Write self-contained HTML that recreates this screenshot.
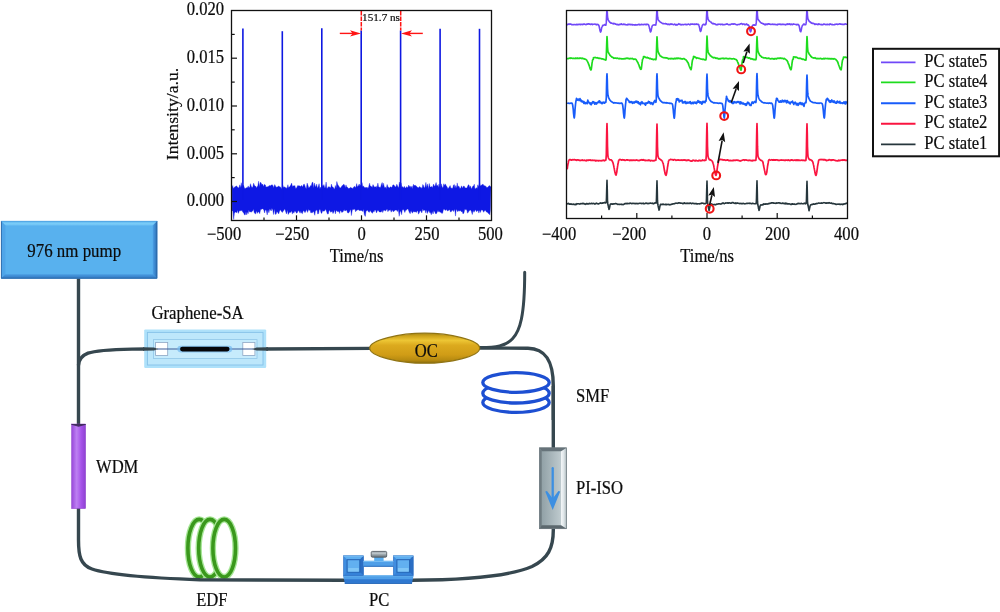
<!DOCTYPE html>
<html lang="en"><head><meta charset="utf-8"><title>Fiber laser figure</title>
<style>html,body{margin:0;padding:0;background:#fff}svg{display:block;will-change:transform}text{stroke:#0c0c0c;stroke-width:0.2px}</style></head>
<body>
<svg width="1000" height="612" viewBox="0 0 1000 612" font-family='"Liberation Serif", "Times New Roman", serif' fill="#0c0c0c">
<rect width="1000" height="612" fill="#fff"/>
<ellipse cx="199.2" cy="548.2" rx="11.3" ry="28.8" fill="#fff" stroke="#a6e696" stroke-width="6.3"/>
<ellipse cx="199.2" cy="548.2" rx="11.3" ry="28.8" fill="none" stroke="#3a981c" stroke-width="3.6"/>
<ellipse cx="210.0" cy="548.2" rx="11.3" ry="28.8" fill="#fff" stroke="#a6e696" stroke-width="6.3"/>
<ellipse cx="210.0" cy="548.2" rx="11.3" ry="28.8" fill="none" stroke="#3a981c" stroke-width="3.6"/>
<ellipse cx="224.2" cy="548.2" rx="11.3" ry="28.8" fill="#fff" stroke="#a6e696" stroke-width="6.3"/>
<ellipse cx="224.2" cy="548.2" rx="11.3" ry="28.8" fill="none" stroke="#3a981c" stroke-width="3.6"/>
<path d="M78.5,278 L78.5,540 C78.5,556 80.5,565 92,569 C108,574.5 150,578 200,579.8 L345,580.2" fill="none" stroke="#36474f" stroke-width="3.4" stroke-linecap="round"/>
<path d="M146,349 L132,349.1 C108,349.6 95,350.6 88,353.2 C81.5,355.8 79,359.5 78.5,365" fill="none" stroke="#36474f" stroke-width="3.4" stroke-linecap="round"/>
<path d="M265,349 L372,348.4" fill="none" stroke="#36474f" stroke-width="3.4" stroke-linecap="round"/>
<path d="M478,348 L528,348.2 C545,348.6 553.3,360 553.3,386 L553.3,530 C553.3,548 548,559 532,566.5 C512,575 470,580 412,580.2" fill="none" stroke="#36474f" stroke-width="3.4" stroke-linecap="round"/>
<path d="M479,347.6 C496,347.8 506,345.7 512.5,338.8 C520,331 524.7,316 524.7,272.3" fill="none" stroke="#36474f" stroke-width="3" stroke-linecap="round"/>
<defs>
<linearGradient id="gOC" x1="0" y1="0" x2="0" y2="1"><stop offset="0" stop-color="#a88812"/><stop offset="0.1" stop-color="#cfa51c"/><stop offset="0.24" stop-color="#edc634"/><stop offset="0.4" stop-color="#dcaa1e"/><stop offset="0.72" stop-color="#d09c16"/><stop offset="0.9" stop-color="#b68a10"/><stop offset="1" stop-color="#8a6c0a"/></linearGradient>
<linearGradient id="gWDM" x1="0" y1="0" x2="1" y2="0"><stop offset="0" stop-color="#9848da"/><stop offset="0.36" stop-color="#bd80f2"/><stop offset="0.7" stop-color="#a552e8"/><stop offset="1" stop-color="#8e42d2"/></linearGradient>
<linearGradient id="gISO" x1="0" y1="0" x2="1" y2="0"><stop offset="0" stop-color="#8c9ca2"/><stop offset="0.75" stop-color="#bcc8cc"/><stop offset="1" stop-color="#c8d3d7"/></linearGradient>
<linearGradient id="gPCb" x1="0" y1="0" x2="0" y2="1"><stop offset="0" stop-color="#6ab4ee"/><stop offset="1" stop-color="#2a78cc"/></linearGradient>
<linearGradient id="gKnob" x1="0" y1="0" x2="0" y2="1"><stop offset="0" stop-color="#8a9298"/><stop offset="0.3" stop-color="#c4ccd0"/><stop offset="0.65" stop-color="#8e989e"/><stop offset="1" stop-color="#6a747a"/></linearGradient>
<filter id="glow" x="-30%" y="-30%" width="160%" height="160%"><feGaussianBlur stdDeviation="1.1"/></filter>
</defs>
<linearGradient id="gPR" x1="0" y1="0" x2="1" y2="0"><stop offset="0" stop-color="#4c9fe6"/><stop offset="1" stop-color="#2b6db2"/></linearGradient>
<linearGradient id="gPT" x1="0" y1="0" x2="0" y2="1"><stop offset="0" stop-color="#5cb4ee"/><stop offset="0.6" stop-color="#7accf8"/><stop offset="1" stop-color="#6cc0f4"/></linearGradient>
<linearGradient id="gPB" x1="0" y1="0" x2="0" y2="1"><stop offset="0" stop-color="#4a9ce2"/><stop offset="1" stop-color="#2f76c0"/></linearGradient>
<rect x="1.0" y="221.0" width="156.2" height="57.60000000000002" fill="#58b1ee"/>
<path d="M1.0,221.0 L157.2,221.0 L152.79999999999998,225.4 L5.4,225.4 Z" fill="url(#gPT)"/>
<path d="M1.0,221.0 L5.4,225.4 L5.4,274.20000000000005 L1.0,278.6 Z" fill="#4fa5e8"/>
<path d="M1.0,278.6 L5.4,274.20000000000005 L152.79999999999998,274.20000000000005 L157.2,278.6 Z" fill="url(#gPB)"/>
<path d="M157.2,221.0 L157.2,278.6 L152.79999999999998,274.20000000000005 L152.79999999999998,225.4 Z" fill="url(#gPR)"/>
<path d="M1.4,221.0 L1.4,278.20000000000005 L156.79999999999998,278.20000000000005 L156.79999999999998,221.0" fill="none" stroke="#2c68a6" stroke-width="0.9"/>
<line x1="1.0" y1="221.3" x2="157.2" y2="221.3" stroke="#4a9cde" stroke-width="0.7"/>
<text transform="translate(74.2,256.8) scale(1,1.085)" font-size="16.9" text-anchor="middle">976 nm pump</text>
<rect x="144.2" y="329.4" width="122" height="38.6" fill="#aee1fa" rx="1.2"/>
<rect x="147.4" y="332.4" width="115.6" height="32.6" fill="#bde7fb" stroke="#86c2e8" stroke-width="0.9"/>
<rect x="153.4" y="339.6" width="103.6" height="18.8" fill="#c6ebfc" stroke="#90c6e8" stroke-width="0.8"/>
<rect x="155.6" y="342.4" width="12.1" height="13" fill="#fff" stroke="#8ea6c4" stroke-width="0.8"/>
<rect x="242.8" y="342.4" width="12.1" height="13" fill="#fff" stroke="#8ea6c4" stroke-width="0.8"/>
<line x1="157" y1="349" x2="253.5" y2="349" stroke="#3c5c98" stroke-width="1.1"/>
<path d="M143,347.3 L154,347.5 L158.2,349 L154,350.6 L143,350.7 Z" fill="#36474f"/>
<path d="M268,347.3 L256.5,347.5 L252.3,349 L256.5,350.6 L268,350.7 Z" fill="#36474f"/>
<line x1="180.6" y1="349.1" x2="229" y2="349.1" stroke="#74baf0" stroke-width="6.6" stroke-linecap="round" opacity="0.7"/>
<line x1="182.4" y1="349.1" x2="227.2" y2="349.1" stroke="#060608" stroke-width="4.7" stroke-linecap="round"/>
<text transform="translate(151.4,318.6) scale(1,1.085)" font-size="16.8" text-anchor="start">Graphene-SA</text>
<path d="M369.7,348.2 C369.7,339.95 399.95,333.2 424.7,333.2 C449.45,333.2 479.7,339.95 479.7,348.2 C479.7,356.45 449.45,363.2 424.7,363.2 C399.95,363.2 369.7,356.45 369.7,348.2 Z" fill="url(#gOC)" stroke="#907414" stroke-width="1.2"/>
<text transform="translate(426.2,357) scale(1,1.085)" font-size="16.6" text-anchor="middle">OC</text>
<ellipse cx="516" cy="402.6" rx="33.2" ry="9.8" fill="#fff" stroke="#1d4fd2" stroke-width="3.3"/>
<ellipse cx="516" cy="393.2" rx="33.2" ry="9.8" fill="#fff" stroke="#1d4fd2" stroke-width="3.3"/>
<ellipse cx="516" cy="382.5" rx="33.2" ry="9.8" fill="#fff" stroke="#1d4fd2" stroke-width="3.3"/>
<line x1="553.3" y1="386" x2="553.3" y2="420" stroke="#36474f" stroke-width="3.4"/>
<text transform="translate(576,402.4) scale(1,1.085)" font-size="16.6" text-anchor="start">SMF</text>
<linearGradient id="gIR" x1="0" y1="0" x2="1" y2="0"><stop offset="0" stop-color="#f4f7f8"/><stop offset="0.5" stop-color="#dfe6e9"/><stop offset="1" stop-color="#aab6ba"/></linearGradient>
<rect x="539.5" y="447.8" width="27.100000000000023" height="80.90000000000003" fill="url(#gISO)"/>
<path d="M566.6,447.8 L566.6,528.7 L561.0,525.3000000000001 L561.0,451.2 Z" fill="url(#gIR)"/>
<path d="M539.5,447.8 L566.6,447.8 L561.0,451.2 L541.7,451.2 Z" fill="#66737a"/>
<path d="M539.5,447.8 L541.7,451.2 L541.7,525.3000000000001 L539.5,528.7 Z" fill="#6f7c82"/>
<path d="M539.5,528.7 L541.7,525.3000000000001 L561.0,525.3000000000001 L566.6,528.7 Z" fill="#5c686e"/>
<rect x="539.5" y="447.8" width="27.100000000000023" height="80.90000000000003" fill="none" stroke="#6a767c" stroke-width="0.7"/>
<line x1="552.7" y1="468.2" x2="552.7" y2="500" stroke="#3c8fe2" stroke-width="2.3" stroke-linecap="round"/>
<path d="M552.7,510 L545.2,491.6 L547,491 L552.7,498.6 L558.4,491 L560.2,491.6 Z" fill="#3c8fe2"/>
<text transform="translate(576,494.2) scale(1,1.085)" font-size="16.6" text-anchor="start">PI-ISO</text>
<rect x="71.6" y="424" width="14" height="84.6" fill="url(#gWDM)" stroke="#8a3cc8" stroke-width="0.5"/>
<path d="M71.4,423.9 L85.8,423.9 L85.8,424.8 L78.6,426.8 L71.4,424.8 Z" fill="#33264a" opacity="0.85"/>
<text transform="translate(96,472.6) scale(1,1.085)" font-size="16.6" text-anchor="start">WDM</text>
<text transform="translate(196.2,606) scale(1,1.085)" font-size="16.6" text-anchor="start">EDF</text>
<path d="M343.3,575.4 L413.4,575.4 L412,583.8 L344.8,583.8 Z" fill="#2f78d0"/>
<path d="M343.3,575.4 L413.4,575.4 L412.8,579.2 L344,579.2 Z" fill="#4f9fe8"/>
<line x1="344" y1="575.8" x2="413" y2="575.8" stroke="#7cc0f4" stroke-width="0.8"/>
<line x1="344.8" y1="583.5" x2="412" y2="583.5" stroke="#2464b4" stroke-width="0.8"/>
<rect x="343.5" y="555.8" width="19.9" height="19.600000000000023" fill="#3f8ee0"/>
<path d="M343.5,555.8 L363.4,555.8 L359.79999999999995,559.6999999999999 L347.1,559.6999999999999 Z" fill="#5eaef0"/>
<path d="M363.4,555.8 L363.4,575.4 L359.79999999999995,572.1999999999999 L359.79999999999995,559.6999999999999 Z" fill="#2b6ec4"/>
<path d="M343.5,575.4 L363.4,575.4 L359.79999999999995,572.1999999999999 L347.1,572.1999999999999 Z" fill="#3582d8"/>
<rect x="347.1" y="559.6999999999999" width="12.7" height="12.500000000000023" fill="#62b0f0" stroke="#2362b2" stroke-width="1"/>
<rect x="348.1" y="568.0" width="10.7" height="3.6" fill="#80c6f6"/>
<rect x="343.5" y="555.8" width="19.9" height="19.600000000000023" fill="none" stroke="#2a6cc0" stroke-width="0.6"/>
<line x1="343.5" y1="556.1999999999999" x2="363.4" y2="556.1999999999999" stroke="#86c6f6" stroke-width="0.8"/>
<rect x="393.3" y="555.8" width="19.9" height="19.600000000000023" fill="#3f8ee0"/>
<path d="M393.3,555.8 L413.2,555.8 L409.59999999999997,559.6999999999999 L396.90000000000003,559.6999999999999 Z" fill="#5eaef0"/>
<path d="M413.2,555.8 L413.2,575.4 L409.59999999999997,572.1999999999999 L409.59999999999997,559.6999999999999 Z" fill="#2b6ec4"/>
<path d="M393.3,575.4 L413.2,575.4 L409.59999999999997,572.1999999999999 L396.90000000000003,572.1999999999999 Z" fill="#3582d8"/>
<rect x="396.90000000000003" y="559.6999999999999" width="12.7" height="12.500000000000023" fill="#62b0f0" stroke="#2362b2" stroke-width="1"/>
<rect x="397.90000000000003" y="568.0" width="10.7" height="3.6" fill="#80c6f6"/>
<rect x="393.3" y="555.8" width="19.9" height="19.600000000000023" fill="none" stroke="#2a6cc0" stroke-width="0.6"/>
<line x1="393.3" y1="556.1999999999999" x2="413.2" y2="556.1999999999999" stroke="#86c6f6" stroke-width="0.8"/>
<rect x="363.4" y="560.8" width="29.9" height="5.8" fill="#4f9fe8"/>
<line x1="363.4" y1="561.4" x2="393.3" y2="561.4" stroke="#7cc0f4" stroke-width="1"/>
<line x1="363.4" y1="566.3" x2="393.3" y2="566.3" stroke="#2566b8" stroke-width="0.9"/>
<rect x="374.2" y="557" width="9.4" height="4" fill="#5aaef0"/>
<rect x="371.2" y="551.4" width="15.5" height="5.8" rx="1.2" fill="url(#gKnob)" stroke="#4c545a" stroke-width="0.8"/>
<text transform="translate(369,606.4) scale(1,1.085)" font-size="16.6" text-anchor="start">PC</text>
<path d="M232.1,187.2 L232.7,185.5 L233.3,188.4 L234.1,187.4 L235,186.9 L236,185.9 L236.6,186.1 L237.3,186.7 L238.1,187.8 L239,187.7 L239.8,184.8 L240.5,187.7 L241.3,182.7 L242.1,187.4 L242.7,185.5 L243.7,185.6 L244.5,188.2 L245.3,188.4 L246.2,187.8 L246.9,187.7 L247.6,187.6 L248.2,185.9 L248.9,187.8 L249.8,186.9 L250.5,183.7 L251.2,186.1 L252,187.8 L252.8,186.8 L253.6,183.2 L254.5,185.4 L255.3,185.9 L255.9,186.6 L256.5,187.9 L257.3,186.4 L257.9,185.5 L258.6,181.2 L259.4,186.9 L260.1,182.6 L260.9,182.5 L261.9,184.8 L262.6,184 L263.5,186.5 L264.5,184.3 L265.4,185.1 L266,187.3 L266.9,186.8 L267.9,186.8 L268.6,186.2 L269.6,185.5 L270.5,185.7 L271.4,185.1 L272.3,184.8 L273.1,185.9 L273.7,187.7 L274.7,184.6 L275.5,186.1 L276.1,187.2 L277.1,186.9 L277.8,186.7 L278.6,186.1 L279.6,186.7 L280.5,186.9 L281.4,189 L282,187.9 L282.8,185.3 L283.6,187.6 L284.4,186.8 L285.3,187.7 L286,187.4 L286.9,188.5 L287.9,184.7 L288.6,187.8 L289.2,187.1 L289.9,186.6 L290.9,184.8 L291.6,183.1 L292.5,186.4 L293.5,185.8 L294.2,186 L294.8,185.4 L295.7,188.5 L296.6,188.1 L297.2,186.4 L298,185.3 L298.6,185.9 L299.3,185.9 L299.9,185.8 L300.5,186.8 L301.3,185.6 L302,185.8 L302.6,187.3 L303.4,184.7 L304.2,184.1 L304.8,185.4 L305.6,187.7 L306.3,188.8 L307.1,183.1 L308.1,185.8 L308.8,188.1 L309.7,187.1 L310.7,185.5 L311.3,185.8 L312.1,182.5 L312.9,182.3 L313.7,187.9 L314.5,183.1 L315.1,185.5 L315.8,187.2 L316.7,184.1 L317.4,188.2 L318.3,186.3 L319.1,183.7 L319.9,188.7 L320.9,187 L321.7,188.4 L322.5,185.4 L323.3,186.1 L323.9,184.6 L324.7,187.7 L325.4,187.2 L326.1,182 L326.9,188.4 L327.7,188 L328.4,186.6 L329,187.5 L329.9,186.7 L330.7,188.3 L331.4,184.1 L332.3,186.9 L333,186.9 L333.6,188 L334.6,189.2 L335.3,185.5 L336.1,188.2 L336.8,181.5 L337.7,184.4 L338.7,186.1 L339.7,187.4 L340.4,188 L341.1,187.3 L341.9,185.9 L342.9,184.9 L343.9,184.2 L344.6,185.2 L345.3,187.7 L346,184.9 L346.7,187 L347.5,187.2 L348.4,188.6 L349.4,188.3 L350.1,187.8 L350.8,187.3 L351.5,187.9 L352.3,187.9 L352.9,189 L353.6,187.1 L354.4,186.5 L355,186.6 L355.8,187.7 L356.7,183.6 L357.4,186.8 L358.3,186 L359.2,184 L359.9,186.1 L360.6,184.7 L361.2,186.4 L362,182.5 L362.7,186.6 L363.5,186 L364.4,187.5 L365.3,187.5 L366.3,187.7 L367,187 L367.9,188.6 L368.6,186.9 L369.6,183.2 L370.2,186.1 L371.2,186.3 L372.2,187.5 L373,184.6 L374,186.6 L374.9,187.2 L375.7,186.8 L376.3,186.3 L376.9,187.7 L377.9,183.1 L378.6,187.1 L379.6,187.2 L380.5,187.6 L381.4,184.2 L382.2,182.5 L382.9,186.4 L383.5,183.2 L384.5,187.7 L385.4,187.1 L386.2,188.7 L387.1,184.5 L388,186.9 L388.9,187.6 L389.6,188 L390.3,186.8 L391,187.1 L391.9,187.6 L392.8,185.1 L393.6,184.8 L394.5,185.8 L395.2,187.1 L396,186.5 L396.8,184.2 L397.8,186.4 L398.7,187.7 L399.4,182 L400.3,185.2 L401,182.8 L401.9,187.4 L402.5,186.6 L403.4,188 L404.3,186.3 L405.2,188.1 L405.9,187.9 L406.6,186.6 L407.3,187.7 L408.1,186.7 L408.8,185 L409.4,186.7 L410.2,186.1 L410.8,187.5 L411.4,187.2 L412.1,185.9 L412.7,189 L413.4,184.3 L414.2,185.6 L415.2,185.3 L416.1,185.9 L417,186.7 L417.8,187.6 L418.7,187.8 L419.6,186.4 L420.4,187.4 L421.2,187.5 L422,188.5 L422.8,184.5 L423.6,185.8 L424.2,188 L425,186.9 L425.9,182.4 L426.7,187.5 L427.7,183.9 L428.7,188.9 L429.3,183.5 L430.1,187.1 L430.8,187.1 L431.8,186.5 L432.5,187.7 L433.5,184.1 L434.4,186.2 L435.1,185.7 L436.1,182.5 L436.8,185.7 L437.7,185.2 L438.3,187.5 L439,184 L439.9,186.8 L440.7,187.9 L441.4,183.8 L442.1,186.9 L443,187.7 L443.8,183.7 L444.4,185.6 L445.3,183.9 L446.2,185.8 L447.1,186.7 L447.7,188.4 L448.4,188.2 L449.3,187.1 L450.1,185.5 L450.9,187.9 L451.8,188.3 L452.7,188.3 L453.4,185.2 L454.3,184.5 L455,188.2 L455.8,185.5 L456.5,188.2 L457.2,182.9 L457.9,186.7 L458.9,186.1 L459.9,188.5 L460.8,188.1 L461.5,185.8 L462.5,188.2 L463.5,186 L464.3,186.3 L465,187.8 L465.9,188.1 L466.9,187.9 L467.5,186.5 L468.4,184.7 L469,185 L469.7,187.5 L470.4,185.9 L471.4,188.9 L472,187.8 L472.8,186.2 L473.7,185.7 L474.3,184.2 L474.9,188.4 L475.6,188.8 L476.3,187.7 L477.2,188.5 L477.8,184.8 L478.7,186.7 L479.6,183.2 L480.3,186 L481.3,185.2 L482.2,184.7 L482.9,184 L483.8,185.5 L484.6,185.8 L485.3,185.9 L486.3,186.7 L487,188.1 L487.7,187 L488.7,186.2 L489.6,185.5 L490.4,186.9 L491,186.2 L490.4,209.9 L489.8,214.9 L489.1,213.4 L488.2,213.4 L487.2,212.1 L486.4,212.1 L485.7,210.5 L484.9,210.6 L484.3,210.9 L483.6,212.3 L482.7,210.1 L481.8,210.3 L481.2,209.8 L480.4,212.5 L479.6,209.9 L478.9,213.1 L478.1,210.5 L477.3,210.7 L476.5,211.8 L475.7,209.8 L474.8,210.8 L474,212.3 L473.1,210.5 L472.3,214.6 L471.3,211.3 L470.7,209.9 L469.9,210.2 L469,211.1 L468.2,212.5 L467.4,213.1 L466.8,209 L466.2,210.3 L465.6,209.5 L464.8,209.2 L463.9,213 L463,213.9 L462.3,211.4 L461.3,211.7 L460.4,210.5 L459.5,211.1 L458.5,210.5 L457.8,211.8 L457,210.5 L456.2,209.3 L455.5,216.1 L454.9,210.9 L454.3,209.3 L453.5,211.6 L452.9,210.2 L452.1,210.3 L451.2,211.8 L450.5,212 L449.8,209.8 L449.1,210.1 L448.3,210.6 L447.4,211 L446.6,209.6 L445.8,210.1 L445.1,210.4 L444.2,208.9 L443.4,209.7 L442.6,213.2 L441.6,213.3 L440.9,211.9 L440,212.4 L439.3,211.3 L438.7,211.9 L438,210.3 L437.3,212 L436.4,213.7 L435.5,213.7 L434.8,212 L433.9,210.6 L433.1,214 L432.2,211.5 L431.3,214.8 L430.4,212.5 L429.6,212.6 L428.9,210.5 L428.1,211.7 L427.3,213.5 L426.6,209.8 L425.8,213.1 L425,210.1 L424.3,210.2 L423.4,210.6 L422.8,208.8 L421.8,212.9 L420.9,210.9 L420,210.8 L419.3,212.7 L418.5,214.2 L417.9,211.3 L417.2,210.7 L416.4,212.4 L415.4,211.8 L414.7,211.8 L414,212 L413.3,211.3 L412.5,213.2 L411.7,212 L411,210.4 L410.2,213.7 L409.5,212.8 L408.8,211.1 L408,209 L407.1,209 L406.4,210.2 L405.8,209.9 L404.8,212.5 L404,210.5 L403.1,209.2 L402.2,210.6 L401.6,214.7 L400.8,211.2 L400,211.5 L399.2,216.3 L398.3,209.5 L397.4,211.6 L396.5,209.9 L395.6,210 L394.7,210.4 L393.9,211.5 L393,211.5 L392.2,209.7 L391.2,212.2 L390.4,209.8 L389.4,210.2 L388.5,210.6 L387.9,211.7 L387.1,208.7 L386.2,210.3 L385.4,210.9 L384.6,210.3 L383.6,210.2 L382.7,212.6 L382.1,210.3 L381.2,212.1 L380.3,212 L379.3,212 L378.6,210.7 L377.9,210.2 L377.2,211.3 L376.5,212.9 L375.5,210.1 L374.8,210 L374,212.1 L373.3,211 L372.5,213.3 L371.6,212.5 L370.8,211.2 L370,210.6 L369.4,212.3 L368.6,212.1 L367.7,210.3 L367,210.5 L366,211.3 L365.3,216.4 L364.4,214.8 L363.4,209.3 L362.6,211.5 L361.7,210.6 L360.8,210.4 L359.8,210.4 L359.1,210.4 L358.1,209.4 L357.2,210.3 L356.3,210.5 L355.6,211.8 L354.9,208.8 L354.1,209.7 L353.1,209.3 L352.3,209.9 L351.4,215.6 L350.8,210 L350.2,209.7 L349.4,212.1 L348.5,212.9 L347.5,212.7 L346.7,210 L345.9,210.4 L344.9,211 L344.1,209.5 L343.2,211.6 L342.6,211.9 L341.9,212.6 L341.1,211.2 L340.3,210.4 L339.6,213.5 L338.9,210.7 L338.2,212.1 L337.6,211.4 L336.9,211.1 L336.3,210.3 L335.4,213.9 L334.7,209.7 L334,211.8 L333,213.6 L332.2,211.3 L331.5,211.7 L330.5,212.2 L329.9,210.5 L329.1,210.5 L328.3,213.9 L327.5,214.1 L326.5,211.5 L325.9,209.7 L325.2,209.5 L324.5,211 L323.6,211.3 L322.7,210.4 L321.7,213.4 L321.1,212.9 L320.3,209.8 L319.3,209.4 L318.6,213.6 L317.7,214 L317,209.7 L316,210.5 L315.4,211.2 L314.8,215.3 L313.9,212 L313.1,211.6 L312.1,213.1 L311.3,212.5 L310.7,212.7 L310,209.8 L309.3,210.6 L308.6,209.3 L307.6,212.4 L306.7,209.6 L305.8,211.3 L305,212.7 L304,211.1 L303.2,210.7 L302.4,213.7 L301.5,213 L300.9,210.9 L300.1,213.2 L299.2,211.4 L298.2,210.6 L297.3,212.7 L296.4,213.2 L295.6,211.5 L294.7,211.1 L293.9,213.2 L293,211.7 L292.4,214.1 L291.5,210.8 L290.6,212.5 L289.9,212.1 L289.1,212.9 L288.2,214.5 L287.5,210.1 L286.5,214 L285.7,211.7 L284.8,208.8 L283.8,210.6 L283.2,211.1 L282.3,212.5 L281.3,211.2 L280.5,209.7 L279.6,211.1 L278.7,213.9 L277.8,212.6 L276.9,211.6 L276,214.4 L275.2,214.1 L274.6,208.8 L273.6,214.6 L272.8,210.1 L271.9,208.2 L271.2,211 L270.4,209.7 L269.7,209 L268.9,212.8 L268,209.7 L267.2,214.9 L266.3,210.5 L265.4,209.7 L264.6,213 L263.8,209.9 L262.9,208.7 L262.2,208.9 L261.6,209.3 L260.6,209.5 L259.7,213.7 L258.8,211.7 L257.8,212.3 L257.2,213.4 L256.5,210.8 L255.5,214 L254.9,213.6 L254.2,212.4 L253.4,209.1 L252.7,210.9 L252.1,211.3 L251.3,212.2 L250.4,211.7 L249.6,212.1 L248.8,209.9 L248.1,213.8 L247.4,211.7 L246.7,214.9 L246,211.6 L245.3,214.8 L244.6,215 L243.7,213 L242.7,211.9 L241.9,210.1 L241.1,211.1 L240.1,210.4 L239.2,211.3 L238.3,213.4 L237.5,210.1 L236.8,212.9 L236.1,212.1 L235.3,212.1 L234.4,213.3 L233.7,219.5 L232.9,210.8 L232.1,211 Z" fill="#0e18e4" stroke="#0e18e4" stroke-width="0.35" stroke-linejoin="miter"/>
<line x1="242.9" y1="28.5" x2="242.9" y2="200" stroke="#0e18e2" stroke-width="1.6"/>
<line x1="282.3" y1="31.2" x2="282.3" y2="200" stroke="#0e18e2" stroke-width="1.6"/>
<line x1="321.8" y1="28.3" x2="321.8" y2="200" stroke="#0e18e2" stroke-width="1.6"/>
<line x1="361.2" y1="30.5" x2="361.2" y2="200" stroke="#0e18e2" stroke-width="1.6"/>
<line x1="400.6" y1="30.5" x2="400.6" y2="200" stroke="#0e18e2" stroke-width="1.6"/>
<line x1="440.1" y1="28.8" x2="440.1" y2="200" stroke="#0e18e2" stroke-width="1.6"/>
<line x1="479.5" y1="28.8" x2="479.5" y2="200" stroke="#0e18e2" stroke-width="1.6"/>
<line x1="361.3" y1="11" x2="361.3" y2="30.5" stroke="#ff1414" stroke-width="1.5" stroke-dasharray="4.5,1"/>
<line x1="400.7" y1="11" x2="400.7" y2="30.5" stroke="#ff1414" stroke-width="1.5" stroke-dasharray="4.5,1"/>
<line x1="339.8" y1="33.4" x2="353" y2="33.4" stroke="#ff1414" stroke-width="1.4"/>
<path d="M361,33.4 L350,30.299999999999997 L352.6,33.4 L350,36.5 Z" fill="#ff1414"/>
<line x1="409" y1="33.4" x2="422.8" y2="33.4" stroke="#ff1414" stroke-width="1.4"/>
<path d="M401,33.4 L412,30.299999999999997 L409.4,33.4 L412,36.5 Z" fill="#ff1414"/>
<text transform="translate(381,21.1) scale(1,1.0)" font-size="11.2" text-anchor="middle">151.7 ns</text>
<rect x="231.5" y="10.5" width="260.0" height="210.0" fill="none" stroke="#111" stroke-width="1.3"/>
<line x1="231.5" y1="201.5" x2="237.0" y2="201.5" stroke="#111" stroke-width="1.2"/>
<line x1="231.5" y1="177.6" x2="234.7" y2="177.6" stroke="#111" stroke-width="1.2"/>
<line x1="231.5" y1="153.8" x2="237.0" y2="153.8" stroke="#111" stroke-width="1.2"/>
<line x1="231.5" y1="129.8" x2="234.7" y2="129.8" stroke="#111" stroke-width="1.2"/>
<line x1="231.5" y1="106" x2="237.0" y2="106" stroke="#111" stroke-width="1.2"/>
<line x1="231.5" y1="82.1" x2="234.7" y2="82.1" stroke="#111" stroke-width="1.2"/>
<line x1="231.5" y1="58.2" x2="237.0" y2="58.2" stroke="#111" stroke-width="1.2"/>
<line x1="231.5" y1="34.4" x2="234.7" y2="34.4" stroke="#111" stroke-width="1.2"/>
<text transform="translate(224,206.4) scale(1,1.085)" font-size="16.6" text-anchor="end">0.000</text>
<text transform="translate(224,158.7) scale(1,1.085)" font-size="16.6" text-anchor="end">0.005</text>
<text transform="translate(224,110.9) scale(1,1.085)" font-size="16.6" text-anchor="end">0.010</text>
<text transform="translate(224,63.1) scale(1,1.085)" font-size="16.6" text-anchor="end">0.015</text>
<text transform="translate(224,14.6) scale(1,1.085)" font-size="16.6" text-anchor="end">0.020</text>
<line x1="264" y1="220.5" x2="264" y2="217.5" stroke="#111" stroke-width="1.2"/>
<line x1="296.5" y1="220.5" x2="296.5" y2="215.3" stroke="#111" stroke-width="1.2"/>
<line x1="329" y1="220.5" x2="329" y2="217.5" stroke="#111" stroke-width="1.2"/>
<line x1="361.5" y1="220.5" x2="361.5" y2="215.3" stroke="#111" stroke-width="1.2"/>
<line x1="394" y1="220.5" x2="394" y2="217.5" stroke="#111" stroke-width="1.2"/>
<line x1="426.5" y1="220.5" x2="426.5" y2="215.3" stroke="#111" stroke-width="1.2"/>
<line x1="459" y1="220.5" x2="459" y2="217.5" stroke="#111" stroke-width="1.2"/>
<text transform="translate(241.2,240.2) scale(1,1.085)" font-size="16.6" text-anchor="end">−500</text>
<text transform="translate(309.4,240.2) scale(1,1.085)" font-size="16.6" text-anchor="end">−250</text>
<text transform="translate(361.6,240.2) scale(1,1.085)" font-size="16.6" text-anchor="middle">0</text>
<text transform="translate(427,240.2) scale(1,1.085)" font-size="16.6" text-anchor="middle">250</text>
<text transform="translate(490.4,240.2) scale(1,1.085)" font-size="16.6" text-anchor="middle">500</text>
<text transform="translate(356.6,261.7) scale(1,1.085)" font-size="16.6" text-anchor="middle">Time/ns</text>
<text transform="translate(177.8,114) scale(1,1.085) rotate(-90)" font-size="16.3" text-anchor="middle">Intensity/a.u.</text>
<clipPath id="rc"><rect x="566.5" y="10.5" width="281.0" height="208.0"/></clipPath>
<g clip-path="url(#rc)">
<path d="M567.3,24.4 L567.5,24.7 L567.8,24.6 L568,24.4 L568.3,24.2 L568.5,24.2 L568.8,24.1 L569,23.9 L569.3,24 L569.5,24.1 L569.8,24.3 L570,24.1 L570.3,24.2 L570.5,24.2 L570.8,24 L571,24.2 L571.3,24.3 L571.5,24.7 L571.8,24.7 L572,24.6 L572.3,24.7 L572.5,24.7 L572.8,24.8 L573,24.6 L573.3,24.6 L573.5,24.7 L573.8,24.8 L574,24.7 L574.3,24.5 L574.5,24.5 L574.8,24.5 L575,24.6 L575.3,24.6 L575.5,24.7 L575.8,24.7 L576,24.6 L576.3,24.7 L576.5,24.4 L576.8,24.4 L577,24.3 L577.3,24.7 L577.5,24.6 L577.8,24.7 L578,24.7 L578.3,24.6 L578.5,24.3 L578.8,24.5 L579,24.4 L579.3,24.5 L579.5,24.3 L579.8,24.2 L580,24.5 L580.3,24.7 L580.5,24.4 L580.8,24.2 L581,24.2 L581.3,24.4 L581.5,24.4 L581.8,24.5 L582,24.3 L582.3,24.4 L582.5,24.6 L582.8,24.5 L583,24.2 L583.3,24.1 L583.5,24.3 L583.8,24 L584,24.1 L584.3,24 L584.5,24.1 L584.8,24.1 L585,24.2 L585.3,24.5 L585.5,24.5 L585.8,24.7 L586,24.6 L586.3,24.5 L586.5,24.5 L586.8,24 L587,24.1 L587.3,24.2 L587.5,24 L587.8,24.2 L588,24.1 L588.3,23.8 L588.5,23.9 L588.8,23.8 L589,23.9 L589.3,23.9 L589.5,24.3 L589.8,24.3 L590,24.3 L590.3,24.4 L590.5,24.1 L590.8,24.4 L591,24.2 L591.3,24.3 L591.5,24.1 L591.8,24 L592,24 L592.3,24.4 L592.5,24.6 L592.8,24.4 L593,24.4 L593.3,24.2 L593.5,24.2 L593.8,24.2 L594,24.3 L594.3,24.1 L594.5,24.1 L594.8,24 L595,24 L595.3,24.2 L595.5,24.3 L595.8,24.4 L596,24.6 L596.3,24.8 L596.5,24.4 L596.8,24.5 L597,24.2 L597.3,24.2 L597.5,24.6 L597.8,24.6 L598,24.5 L598.3,24.7 L598.5,24.9 L598.8,25.4 L599,25.9 L599.3,27 L599.5,28.2 L599.8,29.4 L600,30.6 L600.3,31.5 L600.5,32.1 L600.8,31.9 L601,31.2 L601.3,30 L601.5,28.5 L601.8,27.2 L602,26.9 L602.3,26.3 L602.5,25.8 L602.8,25.3 L603,25.2 L603.3,25.3 L603.5,25.5 L603.8,25.2 L604,25.1 L604.3,24.8 L604.5,24.6 L604.8,24.7 L605,24.8 L605.3,25 L605.5,25.2 L605.8,25.2 L606,24.5 L606.3,22.4 L606.5,17.3 L606.8,11.3 L607,11.3 L607.3,12.3 L607.5,16 L607.8,18.5 L608,19.7 L608.3,20 L608.5,20.5 L608.8,20.7 L609,21.2 L609.3,21.6 L609.5,21.8 L609.8,22.4 L610,22.4 L610.3,22.4 L610.5,22.8 L610.8,22.8 L611,23.3 L611.3,23.3 L611.5,23.1 L611.8,23.2 L612,23.3 L612.3,23.4 L612.5,23.5 L612.8,23.7 L613,23.4 L613.3,23.4 L613.5,23.5 L613.8,23.9 L614,23.6 L614.3,23.6 L614.5,23.5 L614.8,23.5 L615,23.8 L615.3,23.9 L615.5,24.2 L615.8,24.1 L616,24.2 L616.3,24.4 L616.5,24.5 L616.8,24.4 L617,24.6 L617.3,24.3 L617.5,24.6 L617.8,24.6 L618,24.5 L618.3,24.5 L618.5,24.6 L618.8,24.9 L619,24.7 L619.3,24.6 L619.5,24.6 L619.8,24.4 L620,24.1 L620.3,24.3 L620.5,24.3 L620.8,24.5 L621,24.3 L621.3,23.8 L621.5,24 L621.8,24.1 L622,24.4 L622.3,24.5 L622.5,24.5 L622.8,24.6 L623,24.5 L623.3,24.5 L623.5,24.2 L623.8,24.4 L624,24.2 L624.3,24.2 L624.5,24.3 L624.8,24.5 L625,24.3 L625.3,24.7 L625.5,24.5 L625.8,24.6 L626,24.7 L626.3,24.7 L626.5,24.7 L626.8,24.9 L627,25 L627.3,24.9 L627.5,24.5 L627.8,24.3 L628,24.6 L628.3,24.6 L628.5,24.4 L628.8,24.2 L629,24.2 L629.3,24.4 L629.5,24.5 L629.8,24.6 L630,24.4 L630.3,24.6 L630.5,24.5 L630.8,24.4 L631,24.7 L631.3,24.6 L631.5,24.6 L631.8,24.5 L632,24.4 L632.3,24.7 L632.5,24.9 L632.8,24.9 L633,24.8 L633.3,24.9 L633.5,24.8 L633.8,24.8 L634,24.8 L634.3,24.7 L634.5,24.9 L634.8,25.1 L635,25.2 L635.3,24.7 L635.5,24.9 L635.8,24.9 L636,24.7 L636.3,24.7 L636.5,24.8 L636.8,24.9 L637,25 L637.3,24.9 L637.5,24.8 L637.8,24.8 L638,24.7 L638.3,24.5 L638.5,24.4 L638.8,24.3 L639,24.4 L639.3,24.8 L639.5,24.5 L639.8,24.5 L640,24.5 L640.3,24.5 L640.5,24.7 L640.8,24.9 L641,24.7 L641.3,24.6 L641.5,24.3 L641.8,24.3 L642,24.5 L642.3,24.5 L642.5,24.6 L642.8,24.7 L643,24.7 L643.3,24.8 L643.5,24.7 L643.8,24.5 L644,24.3 L644.3,24.5 L644.5,24.4 L644.8,24.3 L645,24.5 L645.3,24.3 L645.5,24.7 L645.8,24.7 L646,24.6 L646.3,24.4 L646.5,24.6 L646.8,24.3 L647,24.2 L647.3,24.3 L647.5,24.4 L647.8,24.4 L648,24.5 L648.3,24.6 L648.5,24.8 L648.8,25.5 L649,26.2 L649.3,27 L649.5,28.4 L649.8,29.2 L650,30.4 L650.3,31.4 L650.5,31.9 L650.8,31.7 L651,30.9 L651.3,29.9 L651.5,28.6 L651.8,27.5 L652,26.4 L652.3,25.8 L652.5,25.2 L652.8,25.2 L653,25.1 L653.3,25.1 L653.5,25 L653.8,25 L654,24.9 L654.3,25 L654.5,24.9 L654.8,24.8 L655,25.1 L655.3,25.2 L655.5,24.8 L655.8,24.9 L656,23.8 L656.3,22 L656.5,17 L656.8,11.3 L657,11.3 L657.3,11.6 L657.5,15.5 L657.8,18 L658,19.2 L658.3,20 L658.5,20.3 L658.8,20.5 L659,20.7 L659.3,21.2 L659.5,21.3 L659.8,21.5 L660,21.9 L660.3,22.1 L660.5,22.3 L660.8,22.4 L661,22.5 L661.3,22.6 L661.5,22.8 L661.8,22.9 L662,23.1 L662.3,23.3 L662.5,23.5 L662.8,23.7 L663,23.5 L663.3,23.4 L663.5,23.7 L663.8,23.7 L664,23.8 L664.3,23.7 L664.5,23.7 L664.8,23.7 L665,23.6 L665.3,23.6 L665.5,23.5 L665.8,23.7 L666,24 L666.3,23.9 L666.5,24 L666.8,23.9 L667,24.1 L667.3,24.4 L667.5,24.2 L667.8,24.2 L668,24.5 L668.3,24.5 L668.5,24.5 L668.8,24.1 L669,24.1 L669.3,24.3 L669.5,24.6 L669.8,24.6 L670,24.5 L670.3,24.3 L670.5,24 L670.8,23.9 L671,24.2 L671.3,24.2 L671.5,24 L671.8,24.3 L672,24 L672.3,24.3 L672.5,24.3 L672.8,24.4 L673,24.5 L673.3,24.5 L673.5,24.7 L673.8,24.6 L674,24.5 L674.3,24.4 L674.5,24.1 L674.8,24.1 L675,24.3 L675.3,24.5 L675.5,24.7 L675.8,25.1 L676,25.1 L676.3,25 L676.5,24.6 L676.8,24.5 L677,24.9 L677.3,24.9 L677.5,24.7 L677.8,24.7 L678,24.3 L678.3,24.2 L678.5,24 L678.8,23.7 L679,24 L679.3,24.3 L679.5,24.3 L679.8,24.4 L680,24.2 L680.3,24.3 L680.5,24.5 L680.8,24.7 L681,24.9 L681.3,24.9 L681.5,24.8 L681.8,24.5 L682,24.4 L682.3,24.5 L682.5,24.6 L682.8,24.5 L683,24.8 L683.3,24.8 L683.5,24.7 L683.8,24.6 L684,24.6 L684.3,24.4 L684.5,24.2 L684.8,24.3 L685,24.2 L685.3,24.2 L685.5,24.5 L685.8,24.4 L686,24.6 L686.3,24.6 L686.5,24.8 L686.8,24.8 L687,24.4 L687.3,24.6 L687.5,24.5 L687.8,24.2 L688,24.2 L688.3,24.3 L688.5,24.1 L688.8,24.1 L689,24.2 L689.3,24.5 L689.5,24.7 L689.8,24.8 L690,24.9 L690.3,24.4 L690.5,24.3 L690.8,24.3 L691,23.9 L691.3,24.1 L691.5,24.3 L691.8,24.2 L692,24.2 L692.3,24.1 L692.5,24.1 L692.8,24.2 L693,24.2 L693.3,24.1 L693.5,24.2 L693.8,24.2 L694,24.4 L694.3,24.5 L694.5,24.2 L694.8,24 L695,24.1 L695.3,24.1 L695.5,24.2 L695.8,24.4 L696,24.4 L696.3,24.1 L696.5,24 L696.8,24.2 L697,24 L697.3,24.3 L697.5,24.3 L697.8,24.5 L698,24.4 L698.3,24.5 L698.5,24.3 L698.8,24.8 L699,25.7 L699.3,26.5 L699.5,27.6 L699.8,28.9 L700,30.1 L700.3,30.9 L700.5,31.5 L700.8,31.1 L701,30.7 L701.3,29.4 L701.5,28.1 L701.8,27.2 L702,26.6 L702.3,25.6 L702.5,25.2 L702.8,24.8 L703,24.5 L703.3,24.4 L703.5,24.4 L703.8,24.3 L704,24.3 L704.3,24.7 L704.5,24.6 L704.8,24.8 L705,24.6 L705.3,24.8 L705.5,24.6 L705.8,24.5 L706,23.8 L706.3,21.9 L706.5,16.8 L706.8,11.3 L707,11.3 L707.3,11.6 L707.5,15.5 L707.8,18 L708,19.1 L708.3,19.4 L708.5,19.9 L708.8,20.2 L709,20.7 L709.3,21 L709.5,21.3 L709.8,21.2 L710,21.5 L710.3,21.8 L710.5,21.9 L710.8,22.1 L711,22.1 L711.3,22.4 L711.5,22.8 L711.8,23 L712,23.1 L712.3,23.5 L712.5,23.7 L712.8,23.6 L713,23.6 L713.3,23.4 L713.5,23.5 L713.8,23.7 L714,24 L714.3,23.9 L714.5,23.7 L714.8,23.7 L715,24 L715.3,24.1 L715.5,24.3 L715.8,24.4 L716,24.7 L716.3,24.7 L716.5,24.5 L716.8,24.5 L717,24.9 L717.3,24.7 L717.5,24.3 L717.8,24.6 L718,24.6 L718.3,24.5 L718.5,24.3 L718.8,24.1 L719,24.2 L719.3,24.3 L719.5,24.2 L719.8,24.2 L720,24.1 L720.3,24.4 L720.5,24.3 L720.8,24.6 L721,24.4 L721.3,24.3 L721.5,24.2 L721.8,24.2 L722,24.2 L722.3,24.4 L722.5,24.6 L722.8,24.4 L723,24.6 L723.3,24.6 L723.5,24.8 L723.8,24.7 L724,24.5 L724.3,24.6 L724.5,24.7 L724.8,24.5 L725,24.5 L725.3,24.5 L725.5,24.5 L725.8,24.2 L726,24 L726.3,24.1 L726.5,24.2 L726.8,24.2 L727,23.9 L727.3,24.3 L727.5,24.2 L727.8,24.1 L728,24.4 L728.3,24.6 L728.5,24.8 L728.8,24.8 L729,24.8 L729.3,24.6 L729.5,24.5 L729.8,24.6 L730,24.6 L730.3,24.7 L730.5,24.4 L730.8,24.3 L731,24.3 L731.3,24.3 L731.5,24.1 L731.8,23.9 L732,23.8 L732.3,24 L732.5,24.1 L732.8,24.2 L733,23.9 L733.3,24 L733.5,24.2 L733.8,23.9 L734,23.8 L734.3,23.7 L734.5,24 L734.8,24.1 L735,24.1 L735.3,24.2 L735.5,24.2 L735.8,24.4 L736,24.6 L736.3,24.7 L736.5,24.7 L736.8,24.8 L737,24.8 L737.3,24.9 L737.5,24.5 L737.8,24.5 L738,24.5 L738.3,24.5 L738.5,24.5 L738.8,24.4 L739,24.5 L739.3,24.5 L739.5,24.5 L739.8,24.3 L740,24.1 L740.3,24 L740.5,23.8 L740.8,23.9 L741,23.8 L741.3,23.6 L741.5,23.5 L741.8,23.6 L742,23.7 L742.3,24.2 L742.5,24.4 L742.8,24.3 L743,24.2 L743.3,24.1 L743.5,24 L743.8,24 L744,24.1 L744.3,24.1 L744.5,24.3 L744.8,24.4 L745,24.8 L745.3,24.4 L745.5,24.6 L745.8,24.5 L746,24.2 L746.3,24.2 L746.5,23.9 L746.8,24 L747,24.6 L747.3,24.8 L747.5,25 L747.8,25.1 L748,24.8 L748.3,24.9 L748.5,25.1 L748.8,25.6 L749,26 L749.3,26.6 L749.5,28.1 L749.8,29.5 L750,30.7 L750.3,31.4 L750.5,31.8 L750.8,31.4 L751,30.9 L751.3,29.8 L751.5,28.5 L751.8,27.3 L752,26.8 L752.3,26 L752.5,25.5 L752.8,25.3 L753,25.2 L753.3,25 L753.5,24.8 L753.8,25.1 L754,25.2 L754.3,25.3 L754.5,24.9 L754.8,24.8 L755,25 L755.3,25 L755.5,25.2 L755.8,25 L756,24.2 L756.3,22.4 L756.5,17.1 L756.8,11.3 L757,11.3 L757.3,11.5 L757.5,15.5 L757.8,18.3 L758,19.3 L758.3,20 L758.5,20.1 L758.8,20.1 L759,20.5 L759.3,21 L759.5,21.2 L759.8,21.6 L760,22 L760.3,22.1 L760.5,22.3 L760.8,22.4 L761,22.7 L761.3,23.2 L761.5,23.3 L761.8,23.3 L762,23.2 L762.3,23.3 L762.5,23.5 L762.8,23.5 L763,23.8 L763.3,23.6 L763.5,23.7 L763.8,24 L764,24.3 L764.3,24.2 L764.5,24.3 L764.8,24.7 L765,24.8 L765.3,24.2 L765.5,24.3 L765.8,24.7 L766,24.4 L766.3,24.5 L766.5,24.1 L766.8,24.4 L767,24.2 L767.3,24.4 L767.5,24.5 L767.8,24 L768,23.8 L768.3,24 L768.5,23.8 L768.8,23.9 L769,23.8 L769.3,24.2 L769.5,24.1 L769.8,24 L770,24.2 L770.3,24.4 L770.5,24.4 L770.8,24.4 L771,24.5 L771.3,24.4 L771.5,24.2 L771.8,24.3 L772,24.3 L772.3,24.1 L772.5,24.3 L772.8,24.4 L773,24.4 L773.3,24.3 L773.5,24.3 L773.8,24.4 L774,24.5 L774.3,24.3 L774.5,24.2 L774.8,24.3 L775,24.3 L775.3,24.5 L775.5,24.3 L775.8,24.5 L776,24.8 L776.3,24.8 L776.5,24.8 L776.8,24.8 L777,24.5 L777.3,24.4 L777.5,24.8 L777.8,24.4 L778,24.2 L778.3,24.4 L778.5,24.3 L778.8,24.2 L779,24.1 L779.3,24.4 L779.5,24.3 L779.8,24.3 L780,24 L780.3,24.2 L780.5,24.3 L780.8,24.4 L781,24.7 L781.3,24.6 L781.5,24.4 L781.8,24.2 L782,24.3 L782.3,24.5 L782.5,24.3 L782.8,24.3 L783,24.3 L783.3,24.4 L783.5,24.3 L783.8,24.3 L784,24.5 L784.3,24.5 L784.5,24.4 L784.8,24.5 L785,24.6 L785.3,24.8 L785.5,24.5 L785.8,24.7 L786,24.6 L786.3,24.4 L786.5,24.3 L786.8,24.1 L787,24.1 L787.3,24.4 L787.5,24 L787.8,23.9 L788,24.1 L788.3,24.1 L788.5,24.3 L788.8,24.1 L789,24.2 L789.3,23.8 L789.5,23.8 L789.8,24 L790,24.3 L790.3,24.6 L790.5,24.6 L790.8,24.4 L791,24.3 L791.3,24 L791.5,24.3 L791.8,24.5 L792,24.4 L792.3,24.7 L792.5,24.4 L792.8,24.5 L793,24.3 L793.3,24 L793.5,24.2 L793.8,24 L794,24.3 L794.3,24.2 L794.5,24.2 L794.8,24.2 L795,24.3 L795.3,24.2 L795.5,24.4 L795.8,24.5 L796,24.5 L796.3,24.4 L796.5,24.8 L796.8,24.6 L797,24.5 L797.3,24.6 L797.5,24.6 L797.8,24.3 L798,24.4 L798.3,24.5 L798.5,24.6 L798.8,25.1 L799,25.6 L799.3,26.5 L799.5,27.6 L799.8,29.2 L800,30.3 L800.3,31.3 L800.5,31.7 L800.8,31.7 L801,30.9 L801.3,29.9 L801.5,28.7 L801.8,27 L802,26.6 L802.3,25.7 L802.5,25.4 L802.8,25.2 L803,25 L803.3,24.5 L803.5,24.2 L803.8,24.1 L804,24.2 L804.3,24.1 L804.5,24.6 L804.8,24.8 L805,24.8 L805.3,24.6 L805.5,24.6 L805.8,24.6 L806,23.7 L806.3,21.9 L806.5,17.2 L806.8,11.3 L807,11.3 L807.3,11.8 L807.5,15.6 L807.8,18.1 L808,19.1 L808.3,19.5 L808.5,20.1 L808.8,20.5 L809,21 L809.3,21.4 L809.5,21.6 L809.8,21.8 L810,22 L810.3,21.9 L810.5,22.4 L810.8,22.6 L811,23 L811.3,22.7 L811.5,23.1 L811.8,23.3 L812,23.4 L812.3,23.1 L812.5,23.2 L812.8,23.2 L813,23.3 L813.3,23.5 L813.5,23.4 L813.8,23.5 L814,23.6 L814.3,24 L814.5,24 L814.8,24.4 L815,24.1 L815.3,24.1 L815.5,24.3 L815.8,24 L816,24.2 L816.3,24.3 L816.5,24.2 L816.8,24.1 L817,24.4 L817.3,24.3 L817.5,24.4 L817.8,24.4 L818,24.6 L818.3,24.2 L818.5,24 L818.8,23.8 L819,23.9 L819.3,24.1 L819.5,24.3 L819.8,24.3 L820,24.5 L820.3,24.5 L820.5,24.6 L820.8,24.4 L821,24.5 L821.3,24.4 L821.5,24.6 L821.8,24.7 L822,24.9 L822.3,24.7 L822.5,24.5 L822.8,24.6 L823,24.6 L823.3,24.5 L823.5,24.2 L823.8,24.4 L824,24.1 L824.3,24 L824.5,24.3 L824.8,24.3 L825,24.4 L825.3,24.5 L825.5,24.6 L825.8,24.7 L826,24.8 L826.3,24.6 L826.5,24.3 L826.8,24.3 L827,24.2 L827.3,24.3 L827.5,24.6 L827.8,24.7 L828,24.5 L828.3,24.5 L828.5,24.5 L828.8,24.4 L829,24.6 L829.3,24.7 L829.5,24.7 L829.8,24.4 L830,23.9 L830.3,23.9 L830.5,24.2 L830.8,24.2 L831,24.3 L831.3,24.2 L831.5,24.4 L831.8,24.4 L832,24.7 L832.3,24.6 L832.5,24.5 L832.8,24.7 L833,24.8 L833.3,24.8 L833.5,24.8 L833.8,24.7 L834,24.7 L834.3,24.7 L834.5,24.7 L834.8,24.3 L835,24.6 L835.3,24.4 L835.5,24.3 L835.8,24.3 L836,24.2 L836.3,24.1 L836.5,24.1 L836.8,24.3 L837,24.3 L837.3,24.4 L837.5,24.2 L837.8,24.4 L838,24.2 L838.3,24.3 L838.5,24.2 L838.8,24.2 L839,24 L839.3,23.9 L839.5,23.9 L839.8,23.9 L840,24 L840.3,24.2 L840.5,24.1 L840.8,24.1 L841,24.2 L841.3,24.1 L841.5,24.2 L841.8,24.3 L842,24.5 L842.3,24.3 L842.5,24.3 L842.8,24.3 L843,24.5 L843.3,24.3 L843.5,24.4 L843.8,24.5 L844,24.6 L844.3,24.4 L844.5,24.2 L844.8,24 L845,24 L845.3,24 L845.5,23.8 L845.8,24.1 L846,24.2 L846.3,24.2 L846.5,24.2 L846.8,24.3" fill="none" stroke="#7048f8" stroke-width="1.6" stroke-linejoin="round" stroke-linecap="round"/>
<path d="M567.3,58.7 L567.5,58.6 L567.8,58.6 L568,58.6 L568.3,58.7 L568.5,58.5 L568.8,58.4 L569,58.3 L569.3,58.2 L569.5,58.2 L569.8,58.2 L570,58.2 L570.3,58.2 L570.5,58.3 L570.8,58.3 L571,57.9 L571.3,58.2 L571.5,58.2 L571.8,58.2 L572,58.3 L572.3,58.4 L572.5,58.5 L572.8,58.4 L573,58.4 L573.3,58.3 L573.5,58.5 L573.8,58.4 L574,58.4 L574.3,58.4 L574.5,58.5 L574.8,58.5 L575,58.6 L575.3,58.1 L575.5,58.2 L575.8,58.2 L576,58.2 L576.3,58.5 L576.5,58.4 L576.8,58.4 L577,58.1 L577.3,58.3 L577.5,58.1 L577.8,58 L578,58.4 L578.3,58.5 L578.5,58.5 L578.8,58.5 L579,58.3 L579.3,58.2 L579.5,58.4 L579.8,58.1 L580,58.2 L580.3,58.1 L580.5,58.2 L580.8,58.1 L581,58.4 L581.3,58.6 L581.5,58.5 L581.8,58.3 L582,58.2 L582.3,58.3 L582.5,58.2 L582.8,58.4 L583,58.6 L583.3,58.6 L583.5,58.6 L583.8,58.8 L584,58.7 L584.3,58.9 L584.5,58.9 L584.8,59.2 L585,59.2 L585.3,59.2 L585.5,59.3 L585.8,59.4 L586,59.5 L586.3,59.8 L586.5,60.2 L586.8,60.2 L587,60.6 L587.3,61.1 L587.5,61.5 L587.8,62.2 L588,62.5 L588.3,63.3 L588.5,63.9 L588.8,64.6 L589,65.2 L589.3,65.9 L589.5,66.6 L589.8,67.4 L590,68.3 L590.3,69 L590.5,69.6 L590.8,70 L591,69.9 L591.3,69.2 L591.5,67.7 L591.8,65.3 L592,63.3 L592.3,61.7 L592.5,60.4 L592.8,59.7 L593,59.4 L593.3,59.4 L593.5,57.5 L593.8,57.6 L594,57.5 L594.3,57.6 L594.5,57.5 L594.8,57.5 L595,57.4 L595.3,57.5 L595.5,57.7 L595.8,57.7 L596,57.7 L596.3,57.8 L596.5,57.8 L596.8,57.9 L597,57.9 L597.3,57.8 L597.5,57.7 L597.8,57.9 L598,58 L598.3,58.2 L598.5,58.3 L598.8,58.3 L599,58.1 L599.3,58.4 L599.5,58.3 L599.8,58.5 L600,58.4 L600.3,58.4 L600.5,58.5 L600.8,58.5 L601,58.5 L601.3,58.7 L601.5,58.9 L601.8,59 L602,59 L602.3,58.9 L602.5,58.9 L602.8,59 L603,59 L603.3,59.2 L603.5,59.3 L603.8,59.2 L604,59.3 L604.3,59.5 L604.5,59.6 L604.8,59.7 L605,59.8 L605.3,59.9 L605.5,60 L605.8,60.1 L606,59.7 L606.3,56.7 L606.5,49.9 L606.8,41.3 L607,36.5 L607.3,41 L607.5,46.8 L607.8,50.3 L608,51.9 L608.3,52.4 L608.5,52.8 L608.8,53.3 L609,53.7 L609.3,54 L609.5,54.5 L609.8,54.9 L610,55.3 L610.3,55.5 L610.5,55.8 L610.8,56.1 L611,56.2 L611.3,56.5 L611.5,56.7 L611.8,56.9 L612,57.2 L612.3,57.1 L612.5,57.2 L612.8,57.3 L613,57.6 L613.3,57.8 L613.5,58.1 L613.8,58.3 L614,58.2 L614.3,58.1 L614.5,58.1 L614.8,58.1 L615,58.1 L615.3,58 L615.5,58.2 L615.8,58.2 L616,58.3 L616.3,58.4 L616.5,58.3 L616.8,58 L617,58.1 L617.3,58.1 L617.5,58.1 L617.8,58.3 L618,58.3 L618.3,58.6 L618.5,58.6 L618.8,58.7 L619,58.7 L619.3,58.8 L619.5,58.5 L619.8,58.7 L620,58.7 L620.3,58.5 L620.5,58.6 L620.8,58.6 L621,58.8 L621.3,58.9 L621.5,58.8 L621.8,58.6 L622,58.8 L622.3,58.9 L622.5,59 L622.8,58.9 L623,59 L623.3,58.8 L623.5,58.9 L623.8,58.8 L624,58.6 L624.3,58.7 L624.5,58.7 L624.8,58.9 L625,59 L625.3,58.7 L625.5,58.4 L625.8,58.4 L626,58.4 L626.3,58.3 L626.5,58.2 L626.8,58.3 L627,58.2 L627.3,58.2 L627.5,58.4 L627.8,58.5 L628,58.4 L628.3,58.3 L628.5,58.3 L628.8,58.6 L629,58.5 L629.3,58.8 L629.5,58.6 L629.8,58.6 L630,58.7 L630.3,58.6 L630.5,58.6 L630.8,58.4 L631,58.5 L631.3,58.7 L631.5,58.6 L631.8,58.6 L632,58.6 L632.3,58.3 L632.5,58.8 L632.8,58.9 L633,58.9 L633.3,59 L633.5,59 L633.8,59.3 L634,59 L634.3,59 L634.5,59 L634.8,59 L635,59.2 L635.3,59.2 L635.5,59.2 L635.8,59.3 L636,59.6 L636.3,60 L636.5,60.4 L636.8,60.9 L637,61.1 L637.3,61.6 L637.5,62.1 L637.8,62.5 L638,62.9 L638.3,63.6 L638.5,64.1 L638.8,64.7 L639,65.2 L639.3,66.2 L639.5,66.9 L639.8,67.5 L640,68.1 L640.3,68.7 L640.5,69.2 L640.8,69.4 L641,69.4 L641.3,68.8 L641.5,67.3 L641.8,65 L642,63 L642.3,61.2 L642.5,59.7 L642.8,59 L643,58.5 L643.3,58.5 L643.5,56.7 L643.8,56.7 L644,56.6 L644.3,56.8 L644.5,56.6 L644.8,56.8 L645,57.1 L645.3,57 L645.5,57.3 L645.8,57.5 L646,57.5 L646.3,57.7 L646.5,57.8 L646.8,57.7 L647,57.5 L647.3,57.4 L647.5,57.4 L647.8,57.9 L648,58 L648.3,58 L648.5,57.9 L648.8,58.2 L649,58.1 L649.3,58.4 L649.5,58.6 L649.8,58.6 L650,58.5 L650.3,58.6 L650.5,58.4 L650.8,58.6 L651,58.9 L651.3,59.1 L651.5,59.2 L651.8,59.1 L652,59.1 L652.3,59 L652.5,59 L652.8,59.2 L653,59.6 L653.3,59.6 L653.5,59.6 L653.8,59.3 L654,59.4 L654.3,59.4 L654.5,59.3 L654.8,59.2 L655,59.4 L655.3,59.5 L655.5,59.7 L655.8,59.7 L656,59.2 L656.3,57 L656.5,50.3 L656.8,41.2 L657,36.8 L657.3,41.2 L657.5,46.8 L657.8,50.1 L658,51.4 L658.3,52.2 L658.5,52.7 L658.8,53.4 L659,53.9 L659.3,54.2 L659.5,54.6 L659.8,55.2 L660,55.5 L660.3,55.9 L660.5,56 L660.8,56.1 L661,56.3 L661.3,56.3 L661.5,56.6 L661.8,56.7 L662,57.1 L662.3,57 L662.5,57.2 L662.8,57.4 L663,57.5 L663.3,57.6 L663.5,57.6 L663.8,57.6 L664,57.5 L664.3,57.6 L664.5,57.6 L664.8,57.8 L665,57.8 L665.3,57.8 L665.5,57.8 L665.8,57.7 L666,57.8 L666.3,58 L666.5,57.9 L666.8,58 L667,58.2 L667.3,58.1 L667.5,58.2 L667.8,58.2 L668,58.6 L668.3,58.8 L668.5,58.9 L668.8,58.7 L669,58.8 L669.3,58.7 L669.5,58.7 L669.8,58.6 L670,58.6 L670.3,58.5 L670.5,58.5 L670.8,58.8 L671,58.5 L671.3,58.4 L671.5,58.5 L671.8,58.6 L672,58.6 L672.3,58.6 L672.5,58.7 L672.8,58.7 L673,58.9 L673.3,58.7 L673.5,58.8 L673.8,58.8 L674,58.6 L674.3,58.7 L674.5,58.5 L674.8,58.3 L675,58.5 L675.3,58.4 L675.5,58.7 L675.8,58.8 L676,58.7 L676.3,58.5 L676.5,58.2 L676.8,58.3 L677,58.1 L677.3,58.5 L677.5,58.3 L677.8,58.3 L678,58 L678.3,58.1 L678.5,58.4 L678.8,58.4 L679,58.3 L679.3,58.3 L679.5,58.4 L679.8,58.6 L680,58.6 L680.3,58.3 L680.5,58.4 L680.8,58.6 L681,58.9 L681.3,58.9 L681.5,58.8 L681.8,58.7 L682,58.8 L682.3,59 L682.5,58.8 L682.8,58.8 L683,58.7 L683.3,58.6 L683.5,58.6 L683.8,58.8 L684,58.7 L684.3,58.7 L684.5,59 L684.8,59.2 L685,59.4 L685.3,59.5 L685.5,59.6 L685.8,59.8 L686,60 L686.3,60.2 L686.5,60.6 L686.8,60.8 L687,61.3 L687.3,61.6 L687.5,62.1 L687.8,62.4 L688,62.8 L688.3,63.3 L688.5,64.1 L688.8,64.8 L689,65.5 L689.3,66.3 L689.5,66.8 L689.8,67.5 L690,68.1 L690.3,68.5 L690.5,69 L690.8,69.3 L691,69.7 L691.3,68.8 L691.5,67.1 L691.8,65.2 L692,63.1 L692.3,61.2 L692.5,60 L692.8,59.2 L693,59 L693.3,58.7 L693.5,56.7 L693.8,56.4 L694,56.4 L694.3,56.9 L694.5,56.9 L694.8,56.9 L695,57.1 L695.3,57.1 L695.5,57.2 L695.8,57.6 L696,57.9 L696.3,58.1 L696.5,58.3 L696.8,58 L697,57.7 L697.3,57.9 L697.5,58 L697.8,58 L698,58 L698.3,58.2 L698.5,58.3 L698.8,58.3 L699,58.4 L699.3,58.4 L699.5,58.4 L699.8,58.6 L700,58.6 L700.3,58.9 L700.5,59 L700.8,59 L701,59.1 L701.3,59 L701.5,59 L701.8,59 L702,59 L702.3,59.2 L702.5,59.5 L702.8,59.5 L703,59.4 L703.3,59.3 L703.5,59.1 L703.8,59.3 L704,59.5 L704.3,59.6 L704.5,59.7 L704.8,59.8 L705,59.9 L705.3,60 L705.5,60 L705.8,59.9 L706,59.5 L706.3,57.2 L706.5,50.1 L706.8,41 L707,36.2 L707.3,40.8 L707.5,46.6 L707.8,50.2 L708,51.8 L708.3,52.5 L708.5,52.9 L708.8,53.3 L709,53.9 L709.3,54.2 L709.5,54.6 L709.8,54.8 L710,55.3 L710.3,55.7 L710.5,55.8 L710.8,55.9 L711,56.2 L711.3,56.5 L711.5,56.3 L711.8,56.6 L712,57 L712.3,57.1 L712.5,57 L712.8,57.4 L713,57.5 L713.3,57.6 L713.5,57.8 L713.8,57.7 L714,57.7 L714.3,57.6 L714.5,57.6 L714.8,57.7 L715,57.7 L715.3,58 L715.5,58.2 L715.8,58.3 L716,58.1 L716.3,58.1 L716.5,58.2 L716.8,58.2 L717,58.4 L717.3,58.3 L717.5,58.2 L717.8,58.4 L718,58.7 L718.3,59 L718.5,58.8 L718.8,58.6 L719,58.6 L719.3,58.7 L719.5,58.9 L719.8,58.8 L720,58.6 L720.3,58.8 L720.5,58.6 L720.8,58.5 L721,58.6 L721.3,58.5 L721.5,58.4 L721.8,58.4 L722,58.4 L722.3,58.4 L722.5,58.3 L722.8,58.5 L723,58.4 L723.3,58.4 L723.5,58.6 L723.8,58.4 L724,58.6 L724.3,58.7 L724.5,58.6 L724.8,58.6 L725,58.4 L725.3,58.5 L725.5,58.4 L725.8,58.3 L726,58.4 L726.3,58.3 L726.5,58.4 L726.8,58.5 L727,58.7 L727.3,58.7 L727.5,58.8 L727.8,58.7 L728,58.6 L728.3,58.7 L728.5,58.8 L728.8,58.8 L729,58.7 L729.3,58.5 L729.5,58.4 L729.8,58.6 L730,58.5 L730.3,58.5 L730.5,58.6 L730.8,58.7 L731,58.6 L731.3,58.8 L731.5,58.8 L731.8,58.8 L732,58.9 L732.3,58.8 L732.5,58.9 L732.8,58.8 L733,58.7 L733.3,58.6 L733.5,58.7 L733.8,58.8 L734,58.8 L734.3,58.8 L734.5,58.9 L734.8,59.1 L735,59.3 L735.3,59.4 L735.5,59.5 L735.8,59.4 L736,59.5 L736.3,59.7 L736.5,59.9 L736.8,60.4 L737,60.5 L737.3,61.1 L737.5,61.7 L737.8,62.5 L738,62.9 L738.3,63.5 L738.5,64.3 L738.8,65.1 L739,65.5 L739.3,66.2 L739.5,66.7 L739.8,67.4 L740,68.2 L740.3,69 L740.5,69.5 L740.8,70 L741,70.2 L741.3,69.2 L741.5,67.6 L741.8,65.5 L742,63.3 L742.3,61.4 L742.5,60.2 L742.8,59.4 L743,59.1 L743.3,58.6 L743.5,56.7 L743.8,57 L744,57.2 L744.3,57.2 L744.5,57.2 L744.8,57.2 L745,57.1 L745.3,57.1 L745.5,57.2 L745.8,57.1 L746,57.2 L746.3,57.4 L746.5,57.3 L746.8,57.4 L747,57.3 L747.3,57.4 L747.5,57.6 L747.8,57.6 L748,57.8 L748.3,57.9 L748.5,58.1 L748.8,58 L749,58 L749.3,57.9 L749.5,57.8 L749.8,58.1 L750,58.4 L750.3,58.6 L750.5,58.8 L750.8,58.7 L751,58.8 L751.3,58.8 L751.5,59 L751.8,58.7 L752,58.9 L752.3,58.9 L752.5,59.1 L752.8,59.3 L753,59.2 L753.3,59.5 L753.5,59.6 L753.8,59.4 L754,59.7 L754.3,59.6 L754.5,59.4 L754.8,59.7 L755,59.6 L755.3,59.7 L755.5,59.8 L755.8,59.7 L756,59.4 L756.3,57.1 L756.5,50.3 L756.8,41.4 L757,36.7 L757.3,41.2 L757.5,46.8 L757.8,50.1 L758,51.5 L758.3,52.1 L758.5,52.8 L758.8,53.3 L759,53.7 L759.3,54.4 L759.5,54.8 L759.8,55.3 L760,55.5 L760.3,55.7 L760.5,55.9 L760.8,56.1 L761,56.3 L761.3,56.5 L761.5,57 L761.8,57.2 L762,57.2 L762.3,57.3 L762.5,57.4 L762.8,57.5 L763,57.5 L763.3,57.6 L763.5,57.8 L763.8,58 L764,58 L764.3,57.9 L764.5,58 L764.8,58 L765,58 L765.3,57.9 L765.5,58 L765.8,57.8 L766,58.1 L766.3,58.3 L766.5,58.4 L766.8,58.3 L767,58.4 L767.3,58.5 L767.5,58.5 L767.8,58.4 L768,58.4 L768.3,58.1 L768.5,58.3 L768.8,58.4 L769,58.2 L769.3,58.4 L769.5,58.6 L769.8,58.7 L770,58.7 L770.3,58.9 L770.5,58.9 L770.8,59 L771,58.9 L771.3,58.7 L771.5,58.6 L771.8,58.5 L772,58.6 L772.3,58.5 L772.5,58.5 L772.8,58.6 L773,58.8 L773.3,59 L773.5,58.8 L773.8,58.8 L774,58.7 L774.3,58.6 L774.5,58.8 L774.8,59 L775,58.8 L775.3,58.6 L775.5,58.5 L775.8,58.5 L776,58.8 L776.3,58.6 L776.5,58.8 L776.8,58.5 L777,58.6 L777.3,58.4 L777.5,58.4 L777.8,58.1 L778,58.3 L778.3,58.4 L778.5,58.3 L778.8,58.1 L779,58.2 L779.3,58.3 L779.5,58.1 L779.8,58.3 L780,58.4 L780.3,58.3 L780.5,58.2 L780.8,58 L781,58.2 L781.3,58.4 L781.5,58.5 L781.8,58.3 L782,58.2 L782.3,58.3 L782.5,58.3 L782.8,58.4 L783,58.4 L783.3,58.6 L783.5,58.8 L783.8,58.8 L784,58.7 L784.3,58.4 L784.5,58.6 L784.8,58.8 L785,58.8 L785.3,59.2 L785.5,59.3 L785.8,59.3 L786,59.7 L786.3,60 L786.5,60 L786.8,60.3 L787,60.5 L787.3,61 L787.5,61.5 L787.8,62 L788,62.6 L788.3,63.4 L788.5,64 L788.8,64.5 L789,65.1 L789.3,66 L789.5,66.9 L789.8,67.6 L790,68.3 L790.3,68.7 L790.5,69.2 L790.8,69.7 L791,69.7 L791.3,69 L791.5,67.3 L791.8,65.4 L792,63.3 L792.3,61.5 L792.5,60.2 L792.8,59.3 L793,59.1 L793.3,59.1 L793.5,56.9 L793.8,57.1 L794,57 L794.3,56.9 L794.5,57 L794.8,57 L795,57 L795.3,57 L795.5,57.4 L795.8,57.2 L796,57.2 L796.3,57.2 L796.5,57.4 L796.8,57.3 L797,57.4 L797.3,57.6 L797.5,57.9 L797.8,58.1 L798,58.1 L798.3,58.1 L798.5,58.4 L798.8,58.4 L799,58.3 L799.3,58.2 L799.5,58.3 L799.8,58.5 L800,58.4 L800.3,58.4 L800.5,58.5 L800.8,58.4 L801,58.6 L801.3,58.6 L801.5,58.8 L801.8,58.9 L802,59.2 L802.3,59.4 L802.5,59.3 L802.8,59.1 L803,59 L803.3,59.2 L803.5,59.3 L803.8,59.4 L804,59.5 L804.3,59.7 L804.5,59.9 L804.8,59.9 L805,60 L805.3,59.8 L805.5,60 L805.8,60.2 L806,59.7 L806.3,57.1 L806.5,50.4 L806.8,41.2 L807,36.6 L807.3,41.1 L807.5,46.8 L807.8,50.3 L808,51.5 L808.3,51.9 L808.5,52.7 L808.8,53.3 L809,53.8 L809.3,54.2 L809.5,54.6 L809.8,55 L810,55.2 L810.3,55.5 L810.5,55.7 L810.8,56.3 L811,56.5 L811.3,56.7 L811.5,57 L811.8,57.2 L812,57.4 L812.3,57.4 L812.5,57.5 L812.8,57.7 L813,57.8 L813.3,57.8 L813.5,57.8 L813.8,57.9 L814,58.1 L814.3,58 L814.5,57.8 L814.8,57.8 L815,57.7 L815.3,58 L815.5,58.3 L815.8,58.4 L816,58.4 L816.3,58.6 L816.5,58.7 L816.8,58.3 L817,58.3 L817.3,58.7 L817.5,58.6 L817.8,58.5 L818,58.4 L818.3,58.6 L818.5,58.5 L818.8,58.6 L819,58.7 L819.3,58.7 L819.5,58.7 L819.8,58.5 L820,58.4 L820.3,58.5 L820.5,58.4 L820.8,58.6 L821,58.7 L821.3,58.9 L821.5,58.8 L821.8,58.6 L822,58.6 L822.3,58.8 L822.5,58.8 L822.8,58.8 L823,58.8 L823.3,58.9 L823.5,58.5 L823.8,58.4 L824,58.6 L824.3,58.7 L824.5,58.8 L824.8,58.5 L825,58.4 L825.3,58.4 L825.5,58.4 L825.8,58.6 L826,58.5 L826.3,58.6 L826.5,58.5 L826.8,58.5 L827,58.5 L827.3,58.6 L827.5,58.7 L827.8,58.5 L828,58.7 L828.3,58.7 L828.5,58.6 L828.8,58.8 L829,58.6 L829.3,58.6 L829.5,58.7 L829.8,58.8 L830,58.7 L830.3,58.9 L830.5,58.9 L830.8,58.7 L831,58.8 L831.3,58.8 L831.5,58.6 L831.8,58.6 L832,58.8 L832.3,58.8 L832.5,58.8 L832.8,58.9 L833,58.7 L833.3,58.8 L833.5,59 L833.8,58.8 L834,58.7 L834.3,58.7 L834.5,58.8 L834.8,58.8 L835,59 L835.3,59 L835.5,59.2 L835.8,59.5 L836,59.8 L836.3,60 L836.5,60.4 L836.8,60.5 L837,60.8 L837.3,61.2 L837.5,61.8 L837.8,62.3 L838,62.9 L838.3,63.7 L838.5,64.5 L838.8,65.3 L839,65.7 L839.3,66.4 L839.5,67.1 L839.8,67.8 L840,68.5 L840.3,69 L840.5,69.5 L840.8,69.6 L841,69.9 L841.3,69.1 L841.5,67.3 L841.8,65.4 L842,63.3 L842.3,61.4 L842.5,60.3 L842.8,59.5 L843,59.2 L843.3,58.9 L843.5,57.1 L843.8,57.1 L844,57.3 L844.3,57.3 L844.5,57.2 L844.8,57.1 L845,57.2 L845.3,57.4 L845.5,57.2 L845.8,57.4 L846,57.5 L846.3,57.6 L846.5,57.5 L846.8,57.4" fill="none" stroke="#1edc1e" stroke-width="1.7" stroke-linejoin="round" stroke-linecap="round"/>
<path d="M567.3,103.1 L567.5,103.2 L567.8,103.1 L568,103.2 L568.3,103.2 L568.5,103.1 L568.8,103.3 L569,103.3 L569.3,103.3 L569.5,103.3 L569.8,103.4 L570,103.3 L570.3,103.3 L570.5,103.2 L570.8,103.2 L571,103.1 L571.3,103 L571.5,103 L571.8,103 L572,103.2 L572.3,103.7 L572.5,104.5 L572.8,105.8 L573,107.5 L573.3,110 L573.5,112.8 L573.8,115.4 L574,117.2 L574.3,117.9 L574.5,116.5 L574.8,113.4 L575,109.6 L575.3,106.5 L575.5,104.5 L575.8,102 L576,100.9 L576.3,99.6 L576.5,98.4 L576.8,98.9 L577,99.4 L577.3,100.2 L577.5,100 L577.8,99.7 L578,99.5 L578.3,99.2 L578.5,99.6 L578.8,99.4 L579,100.5 L579.3,99.5 L579.5,99.3 L579.8,99.3 L580,98.6 L580.3,100.6 L580.5,99.4 L580.8,99.9 L581,100.1 L581.3,101.7 L581.5,100.5 L581.8,101.6 L582,101.3 L582.3,101.5 L582.5,101.3 L582.8,102 L583,101.4 L583.3,101.6 L583.5,102.1 L583.8,103.4 L584,101.6 L584.3,102.9 L584.5,103.4 L584.8,102.9 L585,103 L585.3,102.7 L585.5,103.7 L585.8,103.6 L586,103.2 L586.3,103 L586.5,102.8 L586.8,102.7 L587,102.2 L587.3,103.7 L587.5,102.3 L587.8,100.2 L588,100.9 L588.3,101.4 L588.5,102.1 L588.8,102.2 L589,102.4 L589.3,102.7 L589.5,103.4 L589.8,103 L590,102.8 L590.3,104.1 L590.5,104.1 L590.8,103.2 L591,104.6 L591.3,104.7 L591.5,103.9 L591.8,102.9 L592,103.2 L592.3,102.6 L592.5,102.1 L592.8,101.6 L593,101.7 L593.3,102.8 L593.5,102.6 L593.8,101.9 L594,102.6 L594.3,102.8 L594.5,103.4 L594.8,104.1 L595,103.7 L595.3,103.5 L595.5,103.4 L595.8,102.6 L596,103.2 L596.3,104 L596.5,103.9 L596.8,103.5 L597,103.3 L597.3,102.8 L597.5,102.4 L597.8,102.4 L598,102.1 L598.3,102.1 L598.5,101.4 L598.8,102.1 L599,102.5 L599.3,102 L599.5,100.9 L599.8,101.5 L600,102.7 L600.3,102.4 L600.5,102.3 L600.8,102.2 L601,102.9 L601.3,102.4 L601.5,103.2 L601.8,103 L602,103.7 L602.3,103.5 L602.5,103.3 L602.8,102.4 L603,102.1 L603.3,102.2 L603.5,102.7 L603.8,102.9 L604,102.3 L604.3,102.6 L604.5,103.1 L604.8,102.8 L605,102.3 L605.3,102 L605.5,102.5 L605.8,102.5 L606,101 L606.3,97.8 L606.5,88.4 L606.8,75.9 L607,73.8 L607.3,80.4 L607.5,88.5 L607.8,93.5 L608,95.6 L608.3,96.6 L608.5,97.3 L608.8,98 L609,98.4 L609.3,99 L609.5,99.5 L609.8,99.9 L610,100.2 L610.3,100.5 L610.5,100.7 L610.8,101.1 L611,101.4 L611.3,101.6 L611.5,101.7 L611.8,101.8 L612,102 L612.3,102.1 L612.5,102.3 L612.8,102.4 L613,102.5 L613.3,102.8 L613.5,102.8 L613.8,103 L614,102.8 L614.3,102.6 L614.5,102.8 L614.8,102.9 L615,102.9 L615.3,102.9 L615.5,102.8 L615.8,102.8 L616,102.8 L616.3,102.8 L616.5,103 L616.8,103 L617,103.1 L617.3,103 L617.5,103 L617.8,103.1 L618,103.1 L618.3,103.2 L618.5,103.1 L618.8,103.3 L619,103.2 L619.3,103.3 L619.5,103.2 L619.8,103.3 L620,103.3 L620.3,103.3 L620.5,103.3 L620.8,103.2 L621,103.1 L621.3,103 L621.5,103.2 L621.8,103.2 L622,103.4 L622.3,103.8 L622.5,104.8 L622.8,105.8 L623,107.7 L623.3,110.1 L623.5,112.9 L623.8,115.3 L624,117.2 L624.3,118 L624.5,116.9 L624.8,113.9 L625,110.1 L625.3,107 L625.5,104.7 L625.8,102.3 L626,99.7 L626.3,99 L626.5,98.3 L626.8,98.5 L627,99.5 L627.3,99 L627.5,99.6 L627.8,99.8 L628,99.9 L628.3,100.4 L628.5,100.6 L628.8,100.8 L629,101 L629.3,102.3 L629.5,101.8 L629.8,102.3 L630,102.4 L630.3,102 L630.5,102.4 L630.8,101.7 L631,102.5 L631.3,101.8 L631.5,101.6 L631.8,101.9 L632,102.5 L632.3,103 L632.5,103.3 L632.8,102.9 L633,102.2 L633.3,102.6 L633.5,102.8 L633.8,102.1 L634,102.8 L634.3,102.9 L634.5,102.2 L634.8,102.6 L635,101.8 L635.3,101.5 L635.5,102.1 L635.8,101.4 L636,101.8 L636.3,101.2 L636.5,102.2 L636.8,101.9 L637,102.3 L637.3,101.5 L637.5,101.7 L637.8,102.7 L638,103 L638.3,101.9 L638.5,102.8 L638.8,103.4 L639,103 L639.3,103.9 L639.5,103 L639.8,103 L640,103.7 L640.3,104.3 L640.5,104.8 L640.8,103.6 L641,102.4 L641.3,102.8 L641.5,102 L641.8,102.2 L642,101.7 L642.3,102.7 L642.5,103.4 L642.8,103.6 L643,103.5 L643.3,103.4 L643.5,103.2 L643.8,103.4 L644,103.5 L644.3,103.7 L644.5,103.3 L644.8,104.4 L645,104.2 L645.3,104.8 L645.5,105.2 L645.8,104.1 L646,102.8 L646.3,103.7 L646.5,103.3 L646.8,103.3 L647,103.1 L647.3,103.2 L647.5,102.5 L647.8,102.6 L648,102.5 L648.3,102.7 L648.5,101.4 L648.8,102.4 L649,102.8 L649.3,101.8 L649.5,101.8 L649.8,102.2 L650,102.9 L650.3,102.9 L650.5,103.9 L650.8,103.7 L651,102.9 L651.3,102.6 L651.5,103.2 L651.8,102.8 L652,103.5 L652.3,104 L652.5,104.1 L652.8,104.5 L653,104 L653.3,103.7 L653.5,103 L653.8,102.5 L654,101.6 L654.3,101.5 L654.5,101 L654.8,100.5 L655,101 L655.3,101.6 L655.5,101.5 L655.8,102.3 L656,102 L656.3,99 L656.5,89.2 L656.8,76 L657,73.8 L657.3,80.3 L657.5,88.6 L657.8,93.6 L658,95.8 L658.3,96.7 L658.5,97.5 L658.8,98 L659,98.3 L659.3,98.8 L659.5,99.5 L659.8,99.7 L660,100.2 L660.3,100.5 L660.5,100.8 L660.8,101 L661,101.3 L661.3,101.4 L661.5,101.6 L661.8,101.9 L662,102.1 L662.3,102.1 L662.5,102.4 L662.8,102.6 L663,102.9 L663.3,102.7 L663.5,102.7 L663.8,102.6 L664,102.7 L664.3,102.8 L664.5,102.7 L664.8,102.7 L665,102.8 L665.3,102.9 L665.5,102.9 L665.8,102.9 L666,102.7 L666.3,102.7 L666.5,102.9 L666.8,102.9 L667,103.1 L667.3,103 L667.5,102.8 L667.8,103 L668,103 L668.3,103 L668.5,103.1 L668.8,103.2 L669,103.3 L669.3,103.4 L669.5,103.2 L669.8,103.2 L670,103.4 L670.3,103.3 L670.5,103.3 L670.8,103.3 L671,103.2 L671.3,103.4 L671.5,103.5 L671.8,103.5 L672,103.7 L672.3,103.9 L672.5,104.6 L672.8,105.9 L673,107.8 L673.3,110.1 L673.5,112.9 L673.8,115.5 L674,117.4 L674.3,118.2 L674.5,116.9 L674.8,113.7 L675,110 L675.3,106.9 L675.5,104.8 L675.8,102.6 L676,101.7 L676.3,100.2 L676.5,98.8 L676.8,99.5 L677,99.3 L677.3,99.6 L677.5,98.7 L677.8,98.8 L678,100.2 L678.3,99.6 L678.5,99 L678.8,99.4 L679,100.9 L679.3,101.9 L679.5,101.5 L679.8,101.1 L680,101.2 L680.3,100.7 L680.5,101 L680.8,101 L681,100.4 L681.3,100.4 L681.5,100.7 L681.8,100.6 L682,100.3 L682.3,101.4 L682.5,102.8 L682.8,102.5 L683,102.2 L683.3,102.6 L683.5,102.4 L683.8,102 L684,103 L684.3,102.2 L684.5,101.9 L684.8,101.7 L685,101.4 L685.3,101.7 L685.5,102.3 L685.8,103.3 L686,103.6 L686.3,103.4 L686.5,102.5 L686.8,102.6 L687,102.1 L687.3,102.2 L687.5,103 L687.8,103.1 L688,103 L688.3,102.5 L688.5,102.6 L688.8,102.8 L689,102.3 L689.3,102.2 L689.5,103 L689.8,102 L690,102 L690.3,101.6 L690.5,103 L690.8,103.4 L691,103.6 L691.3,103.7 L691.5,103.7 L691.8,103.7 L692,102.6 L692.3,102.9 L692.5,103.3 L692.8,102.4 L693,103.1 L693.3,103.5 L693.5,102.5 L693.8,102.4 L694,102.4 L694.3,102.3 L694.5,102.8 L694.8,102.1 L695,102.2 L695.3,102.6 L695.5,103.2 L695.8,103.2 L696,103.1 L696.3,103.5 L696.5,102.2 L696.8,103 L697,102.9 L697.3,102.2 L697.5,102.2 L697.8,101.3 L698,100.6 L698.3,101.1 L698.5,101.2 L698.8,102.2 L699,101.9 L699.3,101.5 L699.5,101.4 L699.8,102.9 L700,103 L700.3,102.7 L700.5,102.2 L700.8,101.8 L701,102.1 L701.3,102.7 L701.5,103.5 L701.8,104.1 L702,104 L702.3,103.4 L702.5,102.8 L702.8,101.5 L703,101.3 L703.3,102 L703.5,102 L703.8,102.4 L704,101.6 L704.3,102.4 L704.5,102.5 L704.8,102.5 L705,102.6 L705.3,101.1 L705.5,101 L705.8,100.6 L706,101.3 L706.3,97.7 L706.5,88.3 L706.8,76.8 L707,74.2 L707.3,80.8 L707.5,88.8 L707.8,93.7 L708,95.6 L708.3,96.7 L708.5,97.2 L708.8,97.9 L709,98.4 L709.3,99 L709.5,99.3 L709.8,99.8 L710,100.2 L710.3,100.6 L710.5,100.9 L710.8,101.2 L711,101.5 L711.3,101.6 L711.5,101.7 L711.8,101.7 L712,102 L712.3,102.1 L712.5,102.3 L712.8,102.4 L713,102.4 L713.3,102.6 L713.5,102.8 L713.8,102.8 L714,102.7 L714.3,102.7 L714.5,102.8 L714.8,102.8 L715,102.8 L715.3,102.9 L715.5,103 L715.8,103 L716,103 L716.3,102.9 L716.5,103 L716.8,103 L717,103.1 L717.3,103.1 L717.5,103.1 L717.8,103.2 L718,103.2 L718.3,103.2 L718.5,103.3 L718.8,103.3 L719,103.3 L719.3,103.1 L719.5,103.2 L719.8,103.2 L720,103.1 L720.3,103.1 L720.5,103.2 L720.8,103.4 L721,103.4 L721.3,103.4 L721.5,103.4 L721.8,103.4 L722,103.6 L722.3,103.9 L722.5,104.6 L722.8,105.9 L723,107.7 L723.3,110.1 L723.5,112.8 L723.8,115.4 L724,117.2 L724.3,118 L724.5,116.7 L724.8,113.6 L725,110 L725.3,107 L725.5,104.6 L725.8,102.3 L726,100.8 L726.3,98.7 L726.5,96.4 L726.8,97.2 L727,97.8 L727.3,98.6 L727.5,99.1 L727.8,99.5 L728,99.9 L728.3,100.9 L728.5,101.1 L728.8,101.4 L729,101 L729.3,101.8 L729.5,101.5 L729.8,101.9 L730,100.5 L730.3,101 L730.5,101.1 L730.8,101 L731,102 L731.3,102.3 L731.5,102.1 L731.8,101.8 L732,103 L732.3,103.3 L732.5,103.4 L732.8,102.6 L733,103.4 L733.3,103.5 L733.5,103 L733.8,102.8 L734,101.7 L734.3,102.4 L734.5,101.8 L734.8,102.6 L735,102.3 L735.3,102.1 L735.5,102.5 L735.8,102.7 L736,102 L736.3,102.2 L736.5,102.8 L736.8,102.6 L737,101.9 L737.3,102 L737.5,101.7 L737.8,101.7 L738,102.1 L738.3,102.3 L738.5,102.4 L738.8,101.5 L739,102.2 L739.3,102.3 L739.5,102.2 L739.8,102.6 L740,103.9 L740.3,102.9 L740.5,101.9 L740.8,102.7 L741,102.3 L741.3,103.4 L741.5,102.7 L741.8,102.5 L742,103.2 L742.3,103.7 L742.5,103.8 L742.8,103.9 L743,103.6 L743.3,103.2 L743.5,103.1 L743.8,103.9 L744,104.1 L744.3,103.9 L744.5,103.9 L744.8,104.2 L745,104.6 L745.3,104.1 L745.5,103.8 L745.8,103.8 L746,105.3 L746.3,104.8 L746.5,105.1 L746.8,103.6 L747,104 L747.3,102.9 L747.5,102.3 L747.8,102.2 L748,102.4 L748.3,102.7 L748.5,103.1 L748.8,103.2 L749,103 L749.3,104.6 L749.5,104.5 L749.8,104.5 L750,105.4 L750.3,105.4 L750.5,105.1 L750.8,104.8 L751,105.5 L751.3,104.2 L751.5,103.3 L751.8,103.4 L752,102.1 L752.3,101.9 L752.5,103 L752.8,102.7 L753,102.9 L753.3,103.3 L753.5,102.4 L753.8,102.7 L754,102.2 L754.3,101.6 L754.5,101.6 L754.8,101.8 L755,101.6 L755.3,101.3 L755.5,102.1 L755.8,102.6 L756,102 L756.3,98.2 L756.5,88.4 L756.8,75.8 L757,73.5 L757.3,80.1 L757.5,88.5 L757.8,93.6 L758,95.6 L758.3,96.6 L758.5,97.3 L758.8,98 L759,98.6 L759.3,99.2 L759.5,99.6 L759.8,100.1 L760,100.2 L760.3,100.4 L760.5,100.6 L760.8,100.8 L761,101.1 L761.3,101.6 L761.5,101.7 L761.8,101.9 L762,102 L762.3,102.2 L762.5,102.2 L762.8,102.5 L763,102.6 L763.3,102.5 L763.5,102.8 L763.8,102.8 L764,102.9 L764.3,102.9 L764.5,102.8 L764.8,102.7 L765,102.8 L765.3,103 L765.5,103 L765.8,103 L766,103.1 L766.3,103 L766.5,103.2 L766.8,103.2 L767,103.1 L767.3,103.1 L767.5,103.2 L767.8,103.1 L768,103.2 L768.3,103.3 L768.5,103.4 L768.8,103.2 L769,103 L769.3,103.2 L769.5,103.2 L769.8,103.1 L770,103.2 L770.3,103.1 L770.5,103.3 L770.8,103.1 L771,103.1 L771.3,103 L771.5,103.3 L771.8,103.3 L772,103.6 L772.3,104.1 L772.5,104.7 L772.8,105.9 L773,107.8 L773.3,110.2 L773.5,112.9 L773.8,115.5 L774,117.5 L774.3,118.1 L774.5,116.8 L774.8,113.7 L775,110.1 L775.3,107 L775.5,104.6 L775.8,102.5 L776,100.6 L776.3,99.4 L776.5,98.3 L776.8,98.7 L777,99 L777.3,98.7 L777.5,99.3 L777.8,100.3 L778,100.6 L778.3,101 L778.5,101.2 L778.8,101.1 L779,102.2 L779.3,101.5 L779.5,101.7 L779.8,102.2 L780,102.2 L780.3,101.4 L780.5,100.8 L780.8,102 L781,101.4 L781.3,101.6 L781.5,102 L781.8,102.1 L782,101 L782.3,100.2 L782.5,100.7 L782.8,100.7 L783,101 L783.3,101.5 L783.5,101.8 L783.8,101.2 L784,100.6 L784.3,101.7 L784.5,101.6 L784.8,101.2 L785,100.4 L785.3,101.4 L785.5,101 L785.8,100.8 L786,101.8 L786.3,102.3 L786.5,102.8 L786.8,102 L787,100.5 L787.3,100.6 L787.5,101.1 L787.8,101.2 L788,102.2 L788.3,102.7 L788.5,102.1 L788.8,102.7 L789,102.7 L789.3,102.5 L789.5,103.3 L789.8,102.2 L790,103.1 L790.3,103.8 L790.5,102.3 L790.8,102.4 L791,102.5 L791.3,102 L791.5,101.9 L791.8,101.8 L792,102.2 L792.3,102.1 L792.5,101.1 L792.8,102.4 L793,103.1 L793.3,102.6 L793.5,103.3 L793.8,104.5 L794,103.2 L794.3,102.9 L794.5,102.7 L794.8,103.1 L795,103 L795.3,102.2 L795.5,103.2 L795.8,103 L796,103.5 L796.3,104.8 L796.5,103.9 L796.8,103.4 L797,103.9 L797.3,103.7 L797.5,103.8 L797.8,103.7 L798,105.3 L798.3,105.1 L798.5,104.8 L798.8,104.4 L799,104.3 L799.3,103 L799.5,102.9 L799.8,103.4 L800,102.6 L800.3,102.8 L800.5,102.8 L800.8,102.6 L801,104.3 L801.3,104.5 L801.5,104.3 L801.8,103.5 L802,103.5 L802.3,103.2 L802.5,103.2 L802.8,103.3 L803,104.8 L803.3,105.1 L803.5,105.5 L803.8,105.5 L804,106.4 L804.3,104.9 L804.5,103.4 L804.8,103.2 L805,103.1 L805.3,102.8 L805.5,102.2 L805.8,102.4 L806,102.5 L806.3,98.8 L806.5,89.3 L806.8,77.8 L807,75 L807.3,81.1 L807.5,89.2 L807.8,93.7 L808,95.9 L808.3,96.8 L808.5,97.5 L808.8,98.1 L809,98.7 L809.3,99 L809.5,99.7 L809.8,100.1 L810,100.4 L810.3,101 L810.5,101 L810.8,101.3 L811,101.5 L811.3,101.5 L811.5,101.9 L811.8,101.8 L812,102 L812.3,102.1 L812.5,102.3 L812.8,102.3 L813,102.5 L813.3,102.6 L813.5,102.5 L813.8,102.5 L814,102.6 L814.3,102.6 L814.5,102.7 L814.8,102.8 L815,102.8 L815.3,102.7 L815.5,102.7 L815.8,102.8 L816,102.8 L816.3,103.1 L816.5,103 L816.8,103.1 L817,103.2 L817.3,103.2 L817.5,103.2 L817.8,103.3 L818,103.2 L818.3,103.2 L818.5,103.2 L818.8,103.4 L819,103.3 L819.3,103.4 L819.5,103 L819.8,103 L820,103 L820.3,103 L820.5,103 L820.8,103 L821,103 L821.3,103.2 L821.5,103.3 L821.8,103.3 L822,103.6 L822.3,103.9 L822.5,104.7 L822.8,105.9 L823,107.8 L823.3,110.4 L823.5,113 L823.8,115.7 L824,117.3 L824.3,118 L824.5,117 L824.8,113.8 L825,110.2 L825.3,106.9 L825.5,104.6 L825.8,102.3 L826,101.3 L826.3,99.4 L826.5,100 L826.8,99.1 L827,99.4 L827.3,98.3 L827.5,98.5 L827.8,99.7 L828,99.9 L828.3,99.2 L828.5,100 L828.8,100.8 L829,101.1 L829.3,101.7 L829.5,100.7 L829.8,102 L830,102.3 L830.3,100.8 L830.5,102.2 L830.8,101.8 L831,102.1 L831.3,100.9 L831.5,100.8 L831.8,100 L832,101.1 L832.3,101.3 L832.5,101 L832.8,101.2 L833,102.2 L833.3,101.8 L833.5,102.3 L833.8,101.7 L834,100.9 L834.3,101.1 L834.5,101.3 L834.8,101.8 L835,102.7 L835.3,102.4 L835.5,102.3 L835.8,102.9 L836,103.2 L836.3,103 L836.5,103.1 L836.8,101.7 L837,101.7 L837.3,101.1 L837.5,101.4 L837.8,102.4 L838,101.5 L838.3,102.5 L838.5,102.3 L838.8,102.4 L839,102.3 L839.3,102.9 L839.5,102.5 L839.8,101.4 L840,102.1 L840.3,102.2 L840.5,102.9 L840.8,103.3 L841,102.5 L841.3,102.8 L841.5,103 L841.8,103 L842,103.1 L842.3,103.3 L842.5,102.9 L842.8,102.9 L843,103.5 L843.3,102.8 L843.5,102.8 L843.8,102.3 L844,101.9 L844.3,102 L844.5,102.4 L844.8,103.6 L845,103.3 L845.3,103.9 L845.5,104 L845.8,103.8 L846,101.7 L846.3,102.2 L846.5,102.5 L846.8,102" fill="none" stroke="#185cfa" stroke-width="1.7" stroke-linejoin="round"/>
<path d="M567.3,168.6 L567.5,166.8 L567.8,165.1 L568,163.8 L568.3,162.9 L568.5,161.1 L568.8,160.7 L569,160.2 L569.3,159.9 L569.5,159.7 L569.8,159.5 L570,159.5 L570.3,159.6 L570.5,159.7 L570.8,159.8 L571,160.1 L571.3,160.2 L571.5,159.9 L571.8,159.9 L572,159.8 L572.3,159.7 L572.5,160 L572.8,159.9 L573,159.7 L573.3,159.8 L573.5,159.8 L573.8,159.6 L574,159.6 L574.3,159.6 L574.5,159.7 L574.8,159.7 L575,159.8 L575.3,160.1 L575.5,160 L575.8,159.9 L576,159.9 L576.3,160.1 L576.5,160 L576.8,160.3 L577,160 L577.3,159.9 L577.5,160 L577.8,159.9 L578,159.8 L578.3,160 L578.5,160.1 L578.8,160.2 L579,160.1 L579.3,160.4 L579.5,160.4 L579.8,160.3 L580,160.5 L580.3,160.3 L580.5,160.3 L580.8,160.4 L581,160.4 L581.3,160.2 L581.5,160.3 L581.8,160.2 L582,160.2 L582.3,160 L582.5,160.3 L582.8,160.2 L583,160.4 L583.3,160.4 L583.5,160.4 L583.8,160.5 L584,160.5 L584.3,160.5 L584.5,160.2 L584.8,160.2 L585,160.4 L585.3,160.4 L585.5,160.6 L585.8,160.7 L586,160.7 L586.3,160.9 L586.5,160.6 L586.8,160.5 L587,160 L587.3,160.2 L587.5,160.3 L587.8,160.5 L588,160.4 L588.3,160.1 L588.5,160.3 L588.8,160.1 L589,160 L589.3,160 L589.5,160.2 L589.8,160.1 L590,160.2 L590.3,159.9 L590.5,160.3 L590.8,160.3 L591,160.3 L591.3,160.4 L591.5,160.4 L591.8,160.4 L592,160.2 L592.3,160.2 L592.5,160.3 L592.8,160.5 L593,160.4 L593.3,160.4 L593.5,160.4 L593.8,160.5 L594,160.5 L594.3,160.4 L594.5,160.3 L594.8,160.5 L595,160.5 L595.3,160.4 L595.5,161 L595.8,160.9 L596,160.9 L596.3,160.8 L596.5,160.5 L596.8,160.7 L597,160.6 L597.3,160.5 L597.5,160.6 L597.8,160.7 L598,160.7 L598.3,160.6 L598.5,160.8 L598.8,160.8 L599,160.5 L599.3,160.6 L599.5,160.6 L599.8,160.5 L600,160.6 L600.3,160.5 L600.5,160.8 L600.8,160.7 L601,160.7 L601.3,160.8 L601.5,160.6 L601.8,160.7 L602,160.6 L602.3,160.7 L602.5,160.5 L602.8,160.5 L603,160.2 L603.3,160.2 L603.5,160.2 L603.8,160.3 L604,160.6 L604.3,160.8 L604.5,160.5 L604.8,160.3 L605,160.5 L605.3,160.5 L605.5,160.3 L605.8,160.2 L606,159.2 L606.3,154.8 L606.5,143.2 L606.8,128 L607,123.6 L607.3,133.7 L607.5,146.3 L607.8,154 L608,156.6 L608.3,157.6 L608.5,158.1 L608.8,158.6 L609,158.9 L609.3,159.4 L609.5,159.6 L609.8,159.8 L610,159.9 L610.3,159.9 L610.5,159.9 L610.8,160 L611,159.8 L611.3,160 L611.5,160.2 L611.8,160.5 L612,160.8 L612.3,161.3 L612.5,161.7 L612.8,162.4 L613,162.9 L613.3,164 L613.5,164.9 L613.8,166.2 L614,167.4 L614.3,168.7 L614.5,170 L614.8,171.6 L615,172.6 L615.3,173.5 L615.5,174.3 L615.8,174.9 L616,175 L616.3,174.4 L616.5,173.4 L616.8,172.1 L617,170.2 L617.3,168.5 L617.5,166.8 L617.8,165.2 L618,163.6 L618.3,162.9 L618.5,161 L618.8,160.5 L619,160.1 L619.3,159.7 L619.5,159.6 L619.8,159.6 L620,159.4 L620.3,159.5 L620.5,159.7 L620.8,159.8 L621,159.8 L621.3,160 L621.5,160.1 L621.8,160.2 L622,160 L622.3,159.7 L622.5,159.9 L622.8,159.9 L623,159.9 L623.3,160 L623.5,159.9 L623.8,159.8 L624,160.2 L624.3,159.9 L624.5,160.1 L624.8,160.2 L625,160.5 L625.3,160.4 L625.5,160.4 L625.8,160.2 L626,160.2 L626.3,159.9 L626.5,159.8 L626.8,159.9 L627,159.9 L627.3,159.9 L627.5,160.1 L627.8,159.9 L628,160 L628.3,160 L628.5,160 L628.8,160.1 L629,160.4 L629.3,160.2 L629.5,160.4 L629.8,160.6 L630,160.5 L630.3,160.3 L630.5,160.1 L630.8,160 L631,160.4 L631.3,160 L631.5,160.1 L631.8,160 L632,160.5 L632.3,160.5 L632.5,160.2 L632.8,160.2 L633,160.2 L633.3,160.3 L633.5,160.1 L633.8,160.1 L634,160.1 L634.3,160.2 L634.5,160.3 L634.8,160.3 L635,160.2 L635.3,160.4 L635.5,160.3 L635.8,160.1 L636,160.1 L636.3,160.1 L636.5,160.1 L636.8,159.8 L637,160.2 L637.3,160.3 L637.5,160.5 L637.8,160.4 L638,160.5 L638.3,160.5 L638.5,160.4 L638.8,160.7 L639,160.5 L639.3,160.6 L639.5,160.2 L639.8,160.3 L640,160.3 L640.3,160.1 L640.5,160.1 L640.8,159.8 L641,159.8 L641.3,159.9 L641.5,159.6 L641.8,159.9 L642,160.1 L642.3,160.1 L642.5,159.9 L642.8,159.8 L643,159.7 L643.3,159.7 L643.5,160.2 L643.8,160 L644,160.2 L644.3,160.4 L644.5,160.2 L644.8,160.2 L645,160.3 L645.3,160.2 L645.5,160.4 L645.8,160.7 L646,160.6 L646.3,160.4 L646.5,160.5 L646.8,160.5 L647,160.3 L647.3,160.3 L647.5,160.3 L647.8,160.4 L648,160.6 L648.3,160.4 L648.5,160.2 L648.8,160 L649,160.3 L649.3,160.3 L649.5,160.2 L649.8,160.6 L650,160.7 L650.3,161 L650.5,160.8 L650.8,160.6 L651,160.4 L651.3,160.5 L651.5,160.5 L651.8,160.5 L652,160.8 L652.3,160.9 L652.5,160.6 L652.8,160.6 L653,160.6 L653.3,160.5 L653.5,160.8 L653.8,160.8 L654,160.9 L654.3,160.7 L654.5,160.4 L654.8,160.5 L655,160.4 L655.3,160.3 L655.5,160.3 L655.8,160.2 L656,159.3 L656.3,155 L656.5,143.7 L656.8,128.9 L657,124.1 L657.3,133.9 L657.5,146.8 L657.8,154 L658,156.4 L658.3,157.2 L658.5,157.6 L658.8,158.3 L659,158.5 L659.3,158.7 L659.5,158.9 L659.8,159.2 L660,159.2 L660.3,159.4 L660.5,159.6 L660.8,159.9 L661,159.9 L661.3,160.2 L661.5,160.4 L661.8,160.7 L662,160.9 L662.3,161.1 L662.5,161.8 L662.8,162.5 L663,163.1 L663.3,163.8 L663.5,165 L663.8,166.5 L664,167.8 L664.3,169.5 L664.5,170.8 L664.8,172 L665,173.2 L665.3,174.3 L665.5,174.7 L665.8,175.1 L666,175.4 L666.3,174.6 L666.5,173.7 L666.8,172.3 L667,170.8 L667.3,169.1 L667.5,167.2 L667.8,165.8 L668,164.1 L668.3,162.7 L668.5,161.1 L668.8,160.6 L669,160 L669.3,160 L669.5,160 L669.8,160 L670,159.8 L670.3,159.6 L670.5,159.3 L670.8,159.4 L671,159.5 L671.3,159.5 L671.5,159.5 L671.8,159.7 L672,159.6 L672.3,159.5 L672.5,159.9 L672.8,159.8 L673,159.8 L673.3,160 L673.5,159.7 L673.8,160 L674,159.8 L674.3,159.7 L674.5,159.6 L674.8,159.6 L675,159.6 L675.3,159.8 L675.5,159.9 L675.8,160.1 L676,160.3 L676.3,160 L676.5,160.1 L676.8,160 L677,159.9 L677.3,160 L677.5,160.1 L677.8,160.2 L678,159.9 L678.3,159.9 L678.5,159.9 L678.8,160.2 L679,160.2 L679.3,160.2 L679.5,160.2 L679.8,160.3 L680,160.1 L680.3,160.1 L680.5,160.1 L680.8,160.1 L681,160.1 L681.3,160.1 L681.5,160.1 L681.8,159.9 L682,160.3 L682.3,160.3 L682.5,160 L682.8,160 L683,160.2 L683.3,160.2 L683.5,160.2 L683.8,159.9 L684,160.2 L684.3,160.2 L684.5,159.9 L684.8,159.9 L685,160.2 L685.3,160.3 L685.5,160.1 L685.8,160 L686,160.1 L686.3,160.5 L686.5,160.5 L686.8,160.6 L687,160.4 L687.3,160.4 L687.5,160.2 L687.8,160 L688,159.9 L688.3,159.9 L688.5,160.2 L688.8,160.2 L689,160.4 L689.3,160.5 L689.5,160.5 L689.8,160.4 L690,160.7 L690.3,160.8 L690.5,160.9 L690.8,161.1 L691,161.2 L691.3,161 L691.5,160.9 L691.8,160.9 L692,161.1 L692.3,160.8 L692.5,160.4 L692.8,160.3 L693,160.3 L693.3,160.2 L693.5,160.4 L693.8,160.4 L694,160.4 L694.3,160.4 L694.5,160.7 L694.8,160.9 L695,161 L695.3,160.8 L695.5,160.9 L695.8,160.6 L696,160.2 L696.3,160.5 L696.5,160.6 L696.8,160.6 L697,160.8 L697.3,160.9 L697.5,160.8 L697.8,160.8 L698,160.8 L698.3,160.8 L698.5,160.7 L698.8,160.4 L699,160.8 L699.3,160.6 L699.5,160.4 L699.8,160.5 L700,160.4 L700.3,160.5 L700.5,160.8 L700.8,160.9 L701,160.7 L701.3,160.7 L701.5,160.6 L701.8,160.7 L702,160.5 L702.3,160.3 L702.5,160 L702.8,160.2 L703,160.3 L703.3,160.4 L703.5,160.5 L703.8,160.3 L704,160.2 L704.3,160.1 L704.5,160.3 L704.8,160.5 L705,160.2 L705.3,160.3 L705.5,160.3 L705.8,160.2 L706,159.4 L706.3,155 L706.5,143.6 L706.8,128.2 L707,123.3 L707.3,133.2 L707.5,146.2 L707.8,153.6 L708,156.4 L708.3,157.1 L708.5,158.2 L708.8,158.6 L709,159 L709.3,159.4 L709.5,159.8 L709.8,159.9 L710,159.6 L710.3,159.7 L710.5,159.9 L710.8,159.9 L711,160.3 L711.3,160.3 L711.5,160.6 L711.8,160.6 L712,161 L712.3,161.3 L712.5,161.9 L712.8,162.5 L713,163.2 L713.3,164.1 L713.5,164.9 L713.8,166 L714,167.4 L714.3,168.7 L714.5,170.3 L714.8,171.8 L715,172.8 L715.3,174 L715.5,174.7 L715.8,175.2 L716,175.4 L716.3,174.8 L716.5,173.6 L716.8,172.1 L717,170.3 L717.3,168.2 L717.5,166.6 L717.8,165.1 L718,163.7 L718.3,162.7 L718.5,161 L718.8,160.3 L719,160 L719.3,159.8 L719.5,159.6 L719.8,159.4 L720,159.7 L720.3,159.3 L720.5,159.3 L720.8,159.5 L721,159.5 L721.3,159.5 L721.5,159.7 L721.8,159.6 L722,159.6 L722.3,159.8 L722.5,159.7 L722.8,159.7 L723,159.8 L723.3,160 L723.5,159.8 L723.8,160 L724,160 L724.3,159.9 L724.5,159.8 L724.8,160.1 L725,160.2 L725.3,160.2 L725.5,160.1 L725.8,160.4 L726,160.2 L726.3,160.1 L726.5,160 L726.8,160 L727,160.1 L727.3,159.8 L727.5,159.9 L727.8,160 L728,160.2 L728.3,160.2 L728.5,160.4 L728.8,160.7 L729,160.5 L729.3,160.4 L729.5,160.5 L729.8,160.6 L730,160.5 L730.3,160.7 L730.5,160.3 L730.8,160.5 L731,160.5 L731.3,160.6 L731.5,160.6 L731.8,160.6 L732,160.5 L732.3,160.7 L732.5,160.3 L732.8,160.3 L733,160.2 L733.3,160.6 L733.5,160.3 L733.8,160.3 L734,160.3 L734.3,160.5 L734.5,160.4 L734.8,160.2 L735,160.2 L735.3,160.4 L735.5,160.5 L735.8,160.4 L736,160.2 L736.3,160 L736.5,160.1 L736.8,160.1 L737,160.1 L737.3,160.1 L737.5,160.1 L737.8,160.4 L738,160.5 L738.3,160.4 L738.5,160.5 L738.8,160.4 L739,160.6 L739.3,160.7 L739.5,160.8 L739.8,161 L740,161 L740.3,161 L740.5,161.1 L740.8,160.7 L741,160.6 L741.3,160.5 L741.5,160.6 L741.8,160.5 L742,160.3 L742.3,160.2 L742.5,160.2 L742.8,160.1 L743,160.1 L743.3,159.9 L743.5,160 L743.8,159.9 L744,159.9 L744.3,159.9 L744.5,160 L744.8,160.3 L745,160.2 L745.3,160.2 L745.5,159.8 L745.8,159.8 L746,159.9 L746.3,160 L746.5,160.2 L746.8,160.2 L747,160.3 L747.3,160.4 L747.5,160.5 L747.8,160.4 L748,160.5 L748.3,160.4 L748.5,160.3 L748.8,160.5 L749,160.2 L749.3,160.1 L749.5,160.4 L749.8,160.4 L750,160.4 L750.3,160.5 L750.5,160.4 L750.8,160.7 L751,160.6 L751.3,160.8 L751.5,160.7 L751.8,160.5 L752,160.4 L752.3,160.4 L752.5,160.8 L752.8,160.6 L753,160.6 L753.3,160.3 L753.5,160.4 L753.8,160.4 L754,160.4 L754.3,160.4 L754.5,160.3 L754.8,160.3 L755,160.3 L755.3,160.5 L755.5,160.4 L755.8,160.3 L756,159.2 L756.3,155.1 L756.5,143.6 L756.8,128.2 L757,123.6 L757.3,133.8 L757.5,146.4 L757.8,153.7 L758,156.3 L758.3,157 L758.5,157.7 L758.8,158 L759,158.6 L759.3,158.9 L759.5,159.2 L759.8,159.4 L760,159.6 L760.3,159.9 L760.5,160 L760.8,160.3 L761,160.5 L761.3,160.5 L761.5,160.4 L761.8,160.7 L762,160.9 L762.3,161.1 L762.5,161.3 L762.8,161.8 L763,162.8 L763.3,164.1 L763.5,165.3 L763.8,166.7 L764,167.6 L764.3,169.1 L764.5,170.2 L764.8,171.3 L765,172.7 L765.3,173.8 L765.5,174.4 L765.8,174.7 L766,174.6 L766.3,174.2 L766.5,173.4 L766.8,172.3 L767,170.6 L767.3,168.5 L767.5,166.6 L767.8,165 L768,163.8 L768.3,162.4 L768.5,160.7 L768.8,160.1 L769,159.9 L769.3,159.5 L769.5,159.6 L769.8,159.8 L770,159.9 L770.3,160.1 L770.5,160.1 L770.8,160 L771,159.8 L771.3,159.8 L771.5,159.7 L771.8,159.8 L772,159.9 L772.3,159.9 L772.5,160.2 L772.8,159.9 L773,159.8 L773.3,160.1 L773.5,160.1 L773.8,160.2 L774,159.7 L774.3,160 L774.5,159.9 L774.8,159.9 L775,160.1 L775.3,160.1 L775.5,159.8 L775.8,160.1 L776,159.9 L776.3,159.9 L776.5,159.9 L776.8,159.9 L777,159.9 L777.3,159.9 L777.5,159.9 L777.8,160.3 L778,160.3 L778.3,160.4 L778.5,160.2 L778.8,160.5 L779,160.5 L779.3,160.5 L779.5,160.3 L779.8,160.4 L780,160.1 L780.3,160 L780.5,160 L780.8,160.1 L781,160.2 L781.3,159.9 L781.5,160.1 L781.8,160.1 L782,160.1 L782.3,160.1 L782.5,160.1 L782.8,160.1 L783,160.1 L783.3,160.2 L783.5,160.2 L783.8,160.3 L784,160.2 L784.3,160.4 L784.5,160.4 L784.8,160.2 L785,160.4 L785.3,160.2 L785.5,160.1 L785.8,160.3 L786,160.2 L786.3,160.2 L786.5,160.1 L786.8,160.2 L787,160.3 L787.3,160.4 L787.5,160.2 L787.8,160.2 L788,159.9 L788.3,159.9 L788.5,160.1 L788.8,160.1 L789,160.3 L789.3,160.3 L789.5,160.3 L789.8,160.5 L790,160.2 L790.3,160.5 L790.5,160.2 L790.8,160.2 L791,159.9 L791.3,160 L791.5,159.9 L791.8,160.1 L792,159.8 L792.3,160 L792.5,160.1 L792.8,160.2 L793,160.4 L793.3,160.5 L793.5,160.3 L793.8,160.4 L794,160.3 L794.3,160.2 L794.5,160.1 L794.8,160.1 L795,160.1 L795.3,160.3 L795.5,160.3 L795.8,160 L796,159.9 L796.3,159.9 L796.5,160.4 L796.8,160.4 L797,160.3 L797.3,160.3 L797.5,160 L797.8,160.3 L798,160.2 L798.3,160.1 L798.5,160.3 L798.8,160.1 L799,160 L799.3,160.2 L799.5,160.5 L799.8,160.4 L800,160.4 L800.3,160.3 L800.5,160.4 L800.8,160.3 L801,160.3 L801.3,160.2 L801.5,160.2 L801.8,160.3 L802,160.1 L802.3,160.2 L802.5,160.5 L802.8,160.4 L803,160.3 L803.3,160.3 L803.5,160.3 L803.8,160.1 L804,160.3 L804.3,160.4 L804.5,160.5 L804.8,160.6 L805,160.4 L805.3,160.4 L805.5,160.2 L805.8,160.5 L806,159.5 L806.3,155.3 L806.5,144.1 L806.8,128.7 L807,123.8 L807.3,133.8 L807.5,146.7 L807.8,153.8 L808,156.5 L808.3,157.6 L808.5,158.2 L808.8,158.5 L809,159 L809.3,159.4 L809.5,159.4 L809.8,159.4 L810,159.9 L810.3,159.9 L810.5,159.8 L810.8,160 L811,160 L811.3,160.1 L811.5,160.4 L811.8,160.5 L812,160.6 L812.3,161.3 L812.5,161.6 L812.8,162 L813,162.8 L813.3,163.9 L813.5,164.9 L813.8,166 L814,167.4 L814.3,168.7 L814.5,169.9 L814.8,171.4 L815,172.8 L815.3,173.9 L815.5,174.8 L815.8,175.2 L816,175.4 L816.3,174.8 L816.5,173.6 L816.8,172.2 L817,170.6 L817.3,168.6 L817.5,166.7 L817.8,165.1 L818,163.9 L818.3,162.8 L818.5,160.9 L818.8,160.3 L819,159.9 L819.3,159.8 L819.5,159.6 L819.8,159.6 L820,159.6 L820.3,159.5 L820.5,159.5 L820.8,159.6 L821,159.4 L821.3,159.5 L821.5,159.6 L821.8,159.7 L822,159.6 L822.3,159.5 L822.5,159.7 L822.8,159.6 L823,159.9 L823.3,159.8 L823.5,159.9 L823.8,159.5 L824,159.7 L824.3,159.8 L824.5,159.6 L824.8,159.9 L825,159.8 L825.3,159.7 L825.5,160 L825.8,160.2 L826,160.4 L826.3,160.4 L826.5,160.6 L826.8,160.2 L827,160.2 L827.3,160.4 L827.5,160.4 L827.8,160.4 L828,160.3 L828.3,160.2 L828.5,160.1 L828.8,160.1 L829,159.7 L829.3,160 L829.5,160 L829.8,159.6 L830,159.8 L830.3,159.9 L830.5,160 L830.8,160.1 L831,160.3 L831.3,160.3 L831.5,160.1 L831.8,159.8 L832,159.8 L832.3,160.1 L832.5,159.8 L832.8,159.9 L833,159.9 L833.3,159.9 L833.5,159.8 L833.8,160 L834,160 L834.3,160.2 L834.5,160.2 L834.8,160.3 L835,160.4 L835.3,160.6 L835.5,160.6 L835.8,160.4 L836,160.5 L836.3,160.6 L836.5,160.6 L836.8,160.8 L837,160.9 L837.3,160.7 L837.5,160.9 L837.8,160.9 L838,160.9 L838.3,160.8 L838.5,160.5 L838.8,160.1 L839,160.3 L839.3,160.4 L839.5,160.7 L839.8,160.5 L840,160.4 L840.3,160.3 L840.5,160.4 L840.8,160.3 L841,160.2 L841.3,160 L841.5,160 L841.8,160.2 L842,160.1 L842.3,160 L842.5,160.3 L842.8,160.2 L843,159.9 L843.3,159.8 L843.5,160.1 L843.8,160.1 L844,160 L844.3,160 L844.5,160.2 L844.8,160 L845,160.3 L845.3,160.3 L845.5,160.4 L845.8,160.2 L846,160.1 L846.3,160.5 L846.5,160.4 L846.8,160.3" fill="none" stroke="#fa1440" stroke-width="1.7" stroke-linejoin="round" stroke-linecap="round"/>
<path d="M567.3,203.7 L567.5,203.6 L567.8,203.8 L568,203.5 L568.3,203.6 L568.5,203.4 L568.8,203.7 L569,203.8 L569.3,204.1 L569.5,204 L569.8,204.1 L570,204.1 L570.3,204 L570.5,204.1 L570.8,203.9 L571,203.9 L571.3,204.1 L571.5,204.1 L571.8,204.1 L572,204.5 L572.3,204.4 L572.5,204.3 L572.8,204.3 L573,204.2 L573.3,204.1 L573.5,204.1 L573.8,204.4 L574,204.3 L574.3,204.3 L574.5,204.4 L574.8,204.6 L575,204.5 L575.3,204.3 L575.5,204.6 L575.8,204.2 L576,204.1 L576.3,204.2 L576.5,204.5 L576.8,204.2 L577,203.7 L577.3,203.9 L577.5,203.8 L577.8,203.7 L578,203.8 L578.3,203.8 L578.5,203.8 L578.8,203.7 L579,203.9 L579.3,204.1 L579.5,204 L579.8,203.9 L580,203.9 L580.3,203.9 L580.5,203.7 L580.8,203.6 L581,203.7 L581.3,203.7 L581.5,203.6 L581.8,203.6 L582,203.6 L582.3,203.6 L582.5,203.3 L582.8,203.6 L583,203.6 L583.3,203.4 L583.5,203.6 L583.8,203.6 L584,203.6 L584.3,203.7 L584.5,204 L584.8,204 L585,204.2 L585.3,204.4 L585.5,204 L585.8,203.8 L586,203.9 L586.3,203.6 L586.5,203.5 L586.8,203.7 L587,203.9 L587.3,203.9 L587.5,203.6 L587.8,203.9 L588,204 L588.3,204 L588.5,204 L588.8,203.7 L589,203.5 L589.3,203.3 L589.5,203.7 L589.8,203.6 L590,203.6 L590.3,203.6 L590.5,203.7 L590.8,203.8 L591,203.8 L591.3,203.6 L591.5,203.2 L591.8,203.3 L592,203.5 L592.3,203.7 L592.5,203.7 L592.8,203.7 L593,203.7 L593.3,203.5 L593.5,203.4 L593.8,203.3 L594,203.5 L594.3,203.8 L594.5,203.9 L594.8,204.1 L595,204 L595.3,204 L595.5,203.8 L595.8,203.7 L596,203.3 L596.3,203.2 L596.5,203.1 L596.8,203.3 L597,203.5 L597.3,203.6 L597.5,203.8 L597.8,203.7 L598,203.8 L598.3,204 L598.5,203.9 L598.8,203.9 L599,203.8 L599.3,203.4 L599.5,203.4 L599.8,203.2 L600,203.2 L600.3,203.1 L600.5,203.2 L600.8,202.8 L601,203.2 L601.3,203.4 L601.5,203.3 L601.8,203.1 L602,203.1 L602.3,203.1 L602.5,203.2 L602.8,203.2 L603,202.8 L603.3,202.7 L603.5,202.9 L603.8,203 L604,202.7 L604.3,202.6 L604.5,202.5 L604.8,202.4 L605,202.7 L605.3,202.7 L605.5,202.9 L605.8,202.9 L606,202.7 L606.3,201.9 L606.5,197.4 L606.8,185.5 L607,180.2 L607.3,190.8 L607.5,200.6 L607.8,203.7 L608,205.1 L608.3,206 L608.5,207.4 L608.8,208.2 L609,209.5 L609.3,208.8 L609.5,207.8 L609.8,206.5 L610,205.1 L610.3,204.2 L610.5,204.1 L610.8,204.1 L611,203.8 L611.3,204.2 L611.5,204 L611.8,203.8 L612,203.8 L612.3,204 L612.5,204.2 L612.8,204.3 L613,204.2 L613.3,204 L613.5,203.8 L613.8,203.8 L614,203.8 L614.3,203.9 L614.5,203.7 L614.8,203.8 L615,203.7 L615.3,203.6 L615.5,203.6 L615.8,203.6 L616,203.5 L616.3,203.8 L616.5,203.9 L616.8,203.8 L617,204 L617.3,204.1 L617.5,204.4 L617.8,204.4 L618,204.3 L618.3,204.2 L618.5,204.3 L618.8,204.4 L619,204.4 L619.3,204.3 L619.5,204.4 L619.8,204.4 L620,204.5 L620.3,204.3 L620.5,204.3 L620.8,204.2 L621,204.1 L621.3,204.1 L621.5,204.5 L621.8,204.6 L622,204.5 L622.3,204.4 L622.5,204.5 L622.8,204.7 L623,204.7 L623.3,204.6 L623.5,204.5 L623.8,204.3 L624,204.2 L624.3,204 L624.5,204 L624.8,203.6 L625,203.5 L625.3,203.6 L625.5,203.5 L625.8,203.7 L626,203.5 L626.3,203.5 L626.5,203.6 L626.8,203.4 L627,203.4 L627.3,203.8 L627.5,203.7 L627.8,203.5 L628,203.4 L628.3,203.5 L628.5,203.5 L628.8,203.6 L629,203.7 L629.3,203.6 L629.5,203.5 L629.8,203.2 L630,203 L630.3,203 L630.5,203.2 L630.8,203.2 L631,203.4 L631.3,203.5 L631.5,203.4 L631.8,203.7 L632,203.6 L632.3,203.4 L632.5,203.3 L632.8,203.5 L633,203.4 L633.3,203.3 L633.5,203.4 L633.8,203.5 L634,203.5 L634.3,203.4 L634.5,203.6 L634.8,203.7 L635,203.8 L635.3,203.5 L635.5,203.6 L635.8,203.6 L636,203.3 L636.3,203.5 L636.5,203.5 L636.8,203.4 L637,203.8 L637.3,203.8 L637.5,203.6 L637.8,203.6 L638,203.6 L638.3,203.7 L638.5,203.7 L638.8,203.5 L639,203.4 L639.3,203.3 L639.5,203.2 L639.8,203.3 L640,203.3 L640.3,203.4 L640.5,203.3 L640.8,203.2 L641,203.3 L641.3,203.3 L641.5,203.6 L641.8,203.4 L642,203.5 L642.3,203.5 L642.5,203.3 L642.8,203.5 L643,203.6 L643.3,203.2 L643.5,203.4 L643.8,203.6 L644,203.5 L644.3,203.8 L644.5,203.7 L644.8,203.5 L645,203.6 L645.3,203.5 L645.5,203.3 L645.8,203 L646,203.1 L646.3,203.1 L646.5,203.3 L646.8,203.4 L647,203.3 L647.3,203.2 L647.5,203.5 L647.8,203.7 L648,203.8 L648.3,203.6 L648.5,203.4 L648.8,203.3 L649,203.5 L649.3,203.5 L649.5,203.4 L649.8,203.2 L650,203.2 L650.3,203 L650.5,203.1 L650.8,203.2 L651,203.3 L651.3,203.3 L651.5,203.2 L651.8,203.2 L652,203.5 L652.3,203.4 L652.5,203.1 L652.8,203.4 L653,203.3 L653.3,203.8 L653.5,203.6 L653.8,203.5 L654,203.3 L654.3,203.4 L654.5,203.2 L654.8,203 L655,202.7 L655.3,202.8 L655.5,202.8 L655.8,202.8 L656,203.2 L656.3,202.6 L656.5,197.9 L656.8,186 L657,180.9 L657.3,191.2 L657.5,200.9 L657.8,204.2 L658,205.4 L658.3,206.7 L658.5,208 L658.8,208.7 L659,210.1 L659.3,209.5 L659.5,208.3 L659.8,206.8 L660,205.8 L660.3,204.9 L660.5,204.4 L660.8,204.4 L661,204.2 L661.3,204.4 L661.5,204.5 L661.8,204.6 L662,204.7 L662.3,204.3 L662.5,204.3 L662.8,204.1 L663,204.1 L663.3,204.1 L663.5,204.4 L663.8,204.4 L664,204.6 L664.3,204.5 L664.5,204.5 L664.8,204.5 L665,204.6 L665.3,204.6 L665.5,204.4 L665.8,204.4 L666,204.2 L666.3,204.4 L666.5,204.6 L666.8,204.6 L667,204.6 L667.3,204.5 L667.5,204.4 L667.8,204.5 L668,204.4 L668.3,204.3 L668.5,204.5 L668.8,204.7 L669,204.7 L669.3,204.7 L669.5,204.6 L669.8,204.8 L670,204.6 L670.3,204.5 L670.5,204.5 L670.8,204.7 L671,204.5 L671.3,204.4 L671.5,204.3 L671.8,204.1 L672,204 L672.3,204 L672.5,204.1 L672.8,203.9 L673,203.8 L673.3,203.8 L673.5,203.8 L673.8,203.9 L674,203.7 L674.3,203.7 L674.5,203.5 L674.8,203.6 L675,203.5 L675.3,203.3 L675.5,203.2 L675.8,203.3 L676,203.1 L676.3,203.2 L676.5,203.3 L676.8,203.3 L677,203.3 L677.3,203.4 L677.5,203.3 L677.8,203.3 L678,203.2 L678.3,202.9 L678.5,203 L678.8,202.9 L679,202.9 L679.3,202.8 L679.5,202.9 L679.8,203 L680,203.1 L680.3,203 L680.5,203.1 L680.8,203.2 L681,203.1 L681.3,203.1 L681.5,203.2 L681.8,203.2 L682,203.3 L682.3,203.3 L682.5,203.4 L682.8,203.7 L683,203.7 L683.3,203.3 L683.5,203.5 L683.8,203.4 L684,203.1 L684.3,202.8 L684.5,202.9 L684.8,203.2 L685,203.4 L685.3,203.3 L685.5,203.5 L685.8,203.5 L686,203.3 L686.3,203.4 L686.5,203.4 L686.8,203.4 L687,203.5 L687.3,203.1 L687.5,203.4 L687.8,203.4 L688,203.5 L688.3,203.4 L688.5,203.4 L688.8,203.4 L689,203.2 L689.3,203.4 L689.5,203.5 L689.8,203.3 L690,203.1 L690.3,203.1 L690.5,203.1 L690.8,203.2 L691,203.3 L691.3,203.6 L691.5,203.7 L691.8,203.7 L692,203.7 L692.3,203.2 L692.5,203.2 L692.8,203.1 L693,203.2 L693.3,203.4 L693.5,203.4 L693.8,203.6 L694,203.5 L694.3,203.6 L694.5,203.5 L694.8,203.6 L695,203.6 L695.3,203.5 L695.5,203.6 L695.8,203.5 L696,203.7 L696.3,203.6 L696.5,203.6 L696.8,204 L697,204 L697.3,203.9 L697.5,204 L697.8,203.7 L698,203.7 L698.3,203.8 L698.5,203.7 L698.8,203.8 L699,203.8 L699.3,203.9 L699.5,203.7 L699.8,203.7 L700,203.5 L700.3,203.7 L700.5,203.6 L700.8,203.3 L701,203.3 L701.3,203.2 L701.5,203.4 L701.8,203.3 L702,203 L702.3,203 L702.5,203.2 L702.8,203.3 L703,203.2 L703.3,203.3 L703.5,203.4 L703.8,203.7 L704,203.7 L704.3,203.7 L704.5,203.5 L704.8,203.6 L705,203.6 L705.3,203.6 L705.5,203.6 L705.8,203.4 L706,203.5 L706.3,202.8 L706.5,198 L706.8,186.2 L707,181.1 L707.3,191.5 L707.5,201.4 L707.8,204.4 L708,205.7 L708.3,206.8 L708.5,208.2 L708.8,209.2 L709,210.4 L709.3,210 L709.5,208.6 L709.8,207.3 L710,205.9 L710.3,205 L710.5,204.7 L710.8,204.3 L711,204 L711.3,204.1 L711.5,203.9 L711.8,204 L712,204.4 L712.3,204.4 L712.5,204.4 L712.8,204.5 L713,204.6 L713.3,204.5 L713.5,204.8 L713.8,204.7 L714,204.7 L714.3,204.7 L714.5,204.4 L714.8,204.5 L715,204.5 L715.3,204.6 L715.5,204.6 L715.8,204.8 L716,204.4 L716.3,204.3 L716.5,204.2 L716.8,204.1 L717,204.2 L717.3,204.2 L717.5,204.2 L717.8,204 L718,203.9 L718.3,203.9 L718.5,203.9 L718.8,203.8 L719,203.8 L719.3,203.8 L719.5,203.7 L719.8,204 L720,203.9 L720.3,204 L720.5,204 L720.8,204.1 L721,203.9 L721.3,203.7 L721.5,203.8 L721.8,203.8 L722,203.4 L722.3,203 L722.5,203 L722.8,203 L723,203.1 L723.3,203.2 L723.5,203.1 L723.8,203.5 L724,203.6 L724.3,203.7 L724.5,203.6 L724.8,203.2 L725,203.2 L725.3,203.1 L725.5,203.2 L725.8,203.1 L726,203.2 L726.3,203 L726.5,203 L726.8,203 L727,202.8 L727.3,202.8 L727.5,202.9 L727.8,203.2 L728,203.1 L728.3,203.2 L728.5,202.9 L728.8,202.9 L729,202.9 L729.3,203 L729.5,202.8 L729.8,202.9 L730,203 L730.3,203.2 L730.5,203.2 L730.8,203.3 L731,203.1 L731.3,203.2 L731.5,203 L731.8,202.9 L732,202.6 L732.3,202.5 L732.5,202.5 L732.8,202.6 L733,202.7 L733.3,202.6 L733.5,202.7 L733.8,202.9 L734,203.1 L734.3,203.1 L734.5,203.2 L734.8,203.2 L735,203.4 L735.3,203.1 L735.5,203.2 L735.8,202.9 L736,203.3 L736.3,203.5 L736.5,203.2 L736.8,203.2 L737,203.1 L737.3,202.9 L737.5,203 L737.8,203 L738,203.3 L738.3,203.3 L738.5,203.2 L738.8,203.3 L739,203.5 L739.3,203.7 L739.5,203.7 L739.8,203.5 L740,203.4 L740.3,203.5 L740.5,203.4 L740.8,203.6 L741,203.6 L741.3,203.6 L741.5,203.6 L741.8,203.7 L742,203.5 L742.3,203.8 L742.5,203.7 L742.8,203.6 L743,203.4 L743.3,203.5 L743.5,203.3 L743.8,203.5 L744,203.7 L744.3,203.8 L744.5,203.7 L744.8,203.9 L745,203.8 L745.3,203.8 L745.5,203.8 L745.8,203.7 L746,203.7 L746.3,203.5 L746.5,203.3 L746.8,203.5 L747,203.4 L747.3,203.4 L747.5,203.5 L747.8,203.4 L748,203.3 L748.3,203.3 L748.5,203.2 L748.8,203.4 L749,203.3 L749.3,203.3 L749.5,203.5 L749.8,203.2 L750,203.1 L750.3,203.3 L750.5,203.5 L750.8,203.5 L751,203.4 L751.3,203.6 L751.5,203.7 L751.8,203.8 L752,203.5 L752.3,203.5 L752.5,203.3 L752.8,203.2 L753,203.4 L753.3,203.5 L753.5,203.5 L753.8,203.5 L754,203.7 L754.3,203.8 L754.5,203.8 L754.8,203.8 L755,203.8 L755.3,203.6 L755.5,203.6 L755.8,203.7 L756,203.7 L756.3,202.8 L756.5,197.9 L756.8,186.1 L757,180.8 L757.3,191.5 L757.5,201.4 L757.8,204.7 L758,205.5 L758.3,206.7 L758.5,208.4 L758.8,209.1 L759,210.4 L759.3,209.8 L759.5,208.9 L759.8,207.6 L760,206.2 L760.3,205.5 L760.5,205.1 L760.8,204.9 L761,204.9 L761.3,204.9 L761.5,205 L761.8,205.1 L762,205.1 L762.3,204.9 L762.5,204.5 L762.8,204.6 L763,204.3 L763.3,204.6 L763.5,204.4 L763.8,204.1 L764,203.8 L764.3,204 L764.5,204.1 L764.8,204.2 L765,204.2 L765.3,204.1 L765.5,204.2 L765.8,204.1 L766,203.8 L766.3,204 L766.5,204.1 L766.8,203.9 L767,203.9 L767.3,204 L767.5,204.1 L767.8,203.9 L768,204 L768.3,203.5 L768.5,203.6 L768.8,203.6 L769,203.6 L769.3,203.6 L769.5,203.3 L769.8,203.3 L770,203.4 L770.3,203.3 L770.5,203.3 L770.8,203.3 L771,202.9 L771.3,202.9 L771.5,203 L771.8,202.8 L772,202.9 L772.3,203 L772.5,202.8 L772.8,202.8 L773,203 L773.3,203.1 L773.5,202.9 L773.8,203.1 L774,203.1 L774.3,203 L774.5,203.2 L774.8,203.3 L775,203.2 L775.3,203.3 L775.5,203.3 L775.8,203.4 L776,203.2 L776.3,202.9 L776.5,203.1 L776.8,203.1 L777,203.1 L777.3,203.1 L777.5,203 L777.8,203 L778,202.8 L778.3,202.9 L778.5,202.9 L778.8,202.8 L779,202.8 L779.3,202.8 L779.5,202.8 L779.8,203 L780,203.4 L780.3,203.1 L780.5,203.2 L780.8,203.3 L781,203.3 L781.3,203.5 L781.5,203.4 L781.8,203.3 L782,203.3 L782.3,203.1 L782.5,203.3 L782.8,203.1 L783,203.3 L783.3,203.5 L783.5,203.4 L783.8,203.4 L784,203.4 L784.3,203.7 L784.5,203.7 L784.8,203.4 L785,203.6 L785.3,203.8 L785.5,203.5 L785.8,203.1 L786,203.7 L786.3,203.7 L786.5,203.4 L786.8,203.7 L787,203.9 L787.3,203.6 L787.5,203.8 L787.8,204 L788,204 L788.3,203.9 L788.5,203.9 L788.8,203.8 L789,203.9 L789.3,203.9 L789.5,203.8 L789.8,204 L790,204.1 L790.3,204.2 L790.5,204.3 L790.8,204.5 L791,204.2 L791.3,204.1 L791.5,204.1 L791.8,204.3 L792,203.9 L792.3,203.8 L792.5,203.8 L792.8,203.9 L793,204.2 L793.3,204.2 L793.5,204.1 L793.8,204.1 L794,204.2 L794.3,204.1 L794.5,204.3 L794.8,204 L795,204.2 L795.3,204.2 L795.5,204.3 L795.8,204.4 L796,204.2 L796.3,204.2 L796.5,204.1 L796.8,203.9 L797,203.8 L797.3,203.6 L797.5,203.8 L797.8,203.4 L798,203.2 L798.3,203.3 L798.5,203.6 L798.8,203.6 L799,203.8 L799.3,203.7 L799.5,203.6 L799.8,203.4 L800,203.5 L800.3,203.7 L800.5,203.7 L800.8,203.5 L801,203.6 L801.3,203.4 L801.5,203.3 L801.8,203.5 L802,203.6 L802.3,203.8 L802.5,203.8 L802.8,203.7 L803,203.7 L803.3,203.7 L803.5,203.8 L803.8,203.6 L804,203.3 L804.3,203.3 L804.5,203.5 L804.8,203.5 L805,203.2 L805.3,203.8 L805.5,203.6 L805.8,203.7 L806,203.7 L806.3,203.1 L806.5,198.2 L806.8,186.2 L807,181.2 L807.3,191.5 L807.5,201.3 L807.8,204.5 L808,205.6 L808.3,206.6 L808.5,207.9 L808.8,209.1 L809,210.7 L809.3,209.8 L809.5,208.6 L809.8,207.3 L810,206.3 L810.3,205.5 L810.5,205.1 L810.8,204.7 L811,204.7 L811.3,204.7 L811.5,204.6 L811.8,204.5 L812,204.7 L812.3,204.5 L812.5,204.3 L812.8,204.4 L813,204.1 L813.3,203.9 L813.5,204.1 L813.8,204.1 L814,204.2 L814.3,204.2 L814.5,204 L814.8,204.1 L815,203.9 L815.3,203.9 L815.5,203.9 L815.8,203.9 L816,203.6 L816.3,203.7 L816.5,203.6 L816.8,203.7 L817,203.5 L817.3,203.5 L817.5,203.5 L817.8,203.4 L818,203.3 L818.3,203.3 L818.5,203.1 L818.8,203 L819,203 L819.3,203.1 L819.5,203.1 L819.8,203.3 L820,203.3 L820.3,203.3 L820.5,203.3 L820.8,203 L821,203 L821.3,203.2 L821.5,203 L821.8,203.2 L822,203.2 L822.3,203.2 L822.5,203 L822.8,203 L823,202.8 L823.3,202.8 L823.5,202.8 L823.8,202.8 L824,202.6 L824.3,202.8 L824.5,202.7 L824.8,202.8 L825,202.9 L825.3,202.8 L825.5,203.2 L825.8,203.2 L826,203.2 L826.3,203.1 L826.5,203.1 L826.8,202.8 L827,203 L827.3,202.9 L827.5,202.9 L827.8,203 L828,203.2 L828.3,203.1 L828.5,202.9 L828.8,202.7 L829,202.6 L829.3,202.8 L829.5,203 L829.8,202.9 L830,203 L830.3,203.3 L830.5,203.2 L830.8,203.2 L831,203.1 L831.3,203.3 L831.5,203 L831.8,203.2 L832,203.3 L832.3,203.4 L832.5,203.6 L832.8,203.8 L833,203.7 L833.3,203.6 L833.5,203.5 L833.8,203.6 L834,203.7 L834.3,203.8 L834.5,203.7 L834.8,203.9 L835,204.1 L835.3,204.2 L835.5,204 L835.8,204.4 L836,204.5 L836.3,204.3 L836.5,204.4 L836.8,204.3 L837,204.2 L837.3,204.1 L837.5,204.2 L837.8,204.2 L838,204.3 L838.3,204.2 L838.5,204.1 L838.8,204.1 L839,204.1 L839.3,204.1 L839.5,204.2 L839.8,204.5 L840,204.3 L840.3,204.4 L840.5,204.3 L840.8,204.4 L841,204.4 L841.3,204.3 L841.5,204.3 L841.8,204.1 L842,204.1 L842.3,204.2 L842.5,204.3 L842.8,204.6 L843,204.3 L843.3,204.1 L843.5,204.1 L843.8,204.1 L844,203.9 L844.3,203.9 L844.5,203.8 L844.8,204 L845,203.9 L845.3,203.8 L845.5,203.8 L845.8,203.4 L846,203.3 L846.3,203.3 L846.5,203.4 L846.8,203.1" fill="none" stroke="#26363c" stroke-width="1.6" stroke-linejoin="round" stroke-linecap="round"/>
</g>
<rect x="566.5" y="10.5" width="281.0" height="208.0" fill="none" stroke="#111" stroke-width="1.3"/>
<line x1="601.6" y1="218.5" x2="601.6" y2="215.5" stroke="#111" stroke-width="1.2"/>
<line x1="636.8" y1="218.5" x2="636.8" y2="213.1" stroke="#111" stroke-width="1.2"/>
<line x1="671.9" y1="218.5" x2="671.9" y2="215.5" stroke="#111" stroke-width="1.2"/>
<line x1="707" y1="218.5" x2="707" y2="213.1" stroke="#111" stroke-width="1.2"/>
<line x1="742.1" y1="218.5" x2="742.1" y2="215.5" stroke="#111" stroke-width="1.2"/>
<line x1="777.2" y1="218.5" x2="777.2" y2="213.1" stroke="#111" stroke-width="1.2"/>
<line x1="812.4" y1="218.5" x2="812.4" y2="215.5" stroke="#111" stroke-width="1.2"/>
<circle cx="751" cy="31.3" r="3.9" fill="none" stroke="#f01414" stroke-width="2.1"/>
<circle cx="741.2" cy="69.4" r="3.9" fill="none" stroke="#f01414" stroke-width="2.1"/>
<circle cx="724.2" cy="116.1" r="3.9" fill="none" stroke="#f01414" stroke-width="2.1"/>
<circle cx="716.2" cy="175.4" r="3.9" fill="none" stroke="#f01414" stroke-width="2.1"/>
<circle cx="709.7" cy="208.7" r="3.9" fill="none" stroke="#f01414" stroke-width="2.1"/>
<line x1="743.2" y1="63" x2="746.9" y2="51.7" stroke="#111" stroke-width="1.6"/>
<path d="M749.6,43.6 L749.9,53.7 L747.1,51.2 L743.4,51.6 Z" fill="#111"/>
<line x1="731.3" y1="102.4" x2="736.1" y2="89" stroke="#111" stroke-width="1.6"/>
<path d="M739,81 L739,91.1 L736.3,88.5 L732.6,88.8 Z" fill="#111"/>
<line x1="718" y1="163" x2="722.1" y2="140.6" stroke="#111" stroke-width="1.6"/>
<path d="M723.6,132.2 L725.2,142.2 L722.2,140.1 L718.6,140.9 Z" fill="#111"/>
<line x1="709.6" y1="205" x2="711.9" y2="195.3" stroke="#111" stroke-width="1.6"/>
<path d="M713.8,187 L715,197 L712,194.8 L708.3,195.5 Z" fill="#111"/>
<text transform="translate(576.2,239.6) scale(1,1.085)" font-size="16.6" text-anchor="end">−400</text>
<text transform="translate(646.4,239.6) scale(1,1.085)" font-size="16.6" text-anchor="end">−200</text>
<text transform="translate(707,239.6) scale(1,1.085)" font-size="16.6" text-anchor="middle">0</text>
<text transform="translate(777.5,239.6) scale(1,1.085)" font-size="16.6" text-anchor="middle">200</text>
<text transform="translate(846.5,239.6) scale(1,1.085)" font-size="16.6" text-anchor="middle">400</text>
<text transform="translate(707.2,261.7) scale(1,1.085)" font-size="16.6" text-anchor="middle">Time/ns</text>
<rect x="873" y="48.8" width="126.1" height="107.5" fill="#fff" stroke="#111" stroke-width="2"/>
<line x1="881" y1="62.4" x2="915.5" y2="62.4" stroke="#7048f8" stroke-width="1.9"/>
<text transform="translate(924.3,66.6) scale(1,1.085)" font-size="16.6" text-anchor="start">PC state5</text>
<line x1="881" y1="82.4" x2="915.5" y2="82.4" stroke="#1edc1e" stroke-width="1.9"/>
<text transform="translate(924.3,86.9) scale(1,1.085)" font-size="16.6" text-anchor="start">PC state4</text>
<line x1="881" y1="103.2" x2="915.5" y2="103.2" stroke="#185cfa" stroke-width="1.9"/>
<text transform="translate(924.3,107.7) scale(1,1.085)" font-size="16.6" text-anchor="start">PC state3</text>
<line x1="881" y1="123.8" x2="915.5" y2="123.8" stroke="#fa1440" stroke-width="1.9"/>
<text transform="translate(924.3,128.3) scale(1,1.085)" font-size="16.6" text-anchor="start">PC state2</text>
<line x1="881" y1="144.4" x2="915.5" y2="144.4" stroke="#26363c" stroke-width="1.9"/>
<text transform="translate(924.3,148.9) scale(1,1.085)" font-size="16.6" text-anchor="start">PC state1</text>
</svg>
</body></html>
